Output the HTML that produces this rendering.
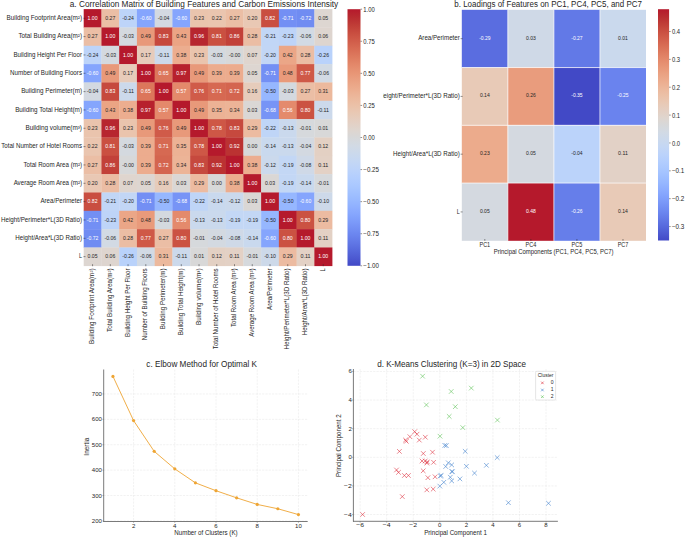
<!DOCTYPE html>
<html><head><meta charset="utf-8"><title>Figure</title>
<style>
html,body{margin:0;padding:0;background:#ffffff;}
body{width:685px;height:537px;overflow:hidden;}
svg{display:block;font-family:"Liberation Sans", sans-serif;}

</style></head><body>
<svg width="685" height="537" viewBox="0 0 685 537">
<rect x="0" y="0" width="685" height="537" fill="#ffffff"/>
<rect x="83.70" y="9.10" width="18.04" height="18.64" fill="#b5192c"/>
<rect x="101.44" y="9.10" width="18.04" height="18.64" fill="#ebbea5"/>
<rect x="119.19" y="9.10" width="18.04" height="18.64" fill="#bdd4f9"/>
<rect x="136.93" y="9.10" width="18.04" height="18.64" fill="#85a5fd"/>
<rect x="154.67" y="9.10" width="18.04" height="18.64" fill="#d3d9e1"/>
<rect x="172.41" y="9.10" width="18.04" height="18.64" fill="#85a5fd"/>
<rect x="190.16" y="9.10" width="18.04" height="18.64" fill="#eac4ad"/>
<rect x="207.90" y="9.10" width="18.04" height="18.64" fill="#eac5af"/>
<rect x="225.64" y="9.10" width="18.04" height="18.64" fill="#ebbea5"/>
<rect x="243.39" y="9.10" width="18.04" height="18.64" fill="#e9c8b4"/>
<rect x="261.13" y="9.10" width="18.04" height="18.64" fill="#c94e40"/>
<rect x="278.87" y="9.10" width="18.04" height="18.64" fill="#738ff4"/>
<rect x="296.61" y="9.10" width="18.04" height="18.64" fill="#708cf2"/>
<rect x="314.36" y="9.10" width="18.04" height="18.64" fill="#ddd6d1"/>
<rect x="83.70" y="27.44" width="18.04" height="18.64" fill="#ebbea5"/>
<rect x="101.44" y="27.44" width="18.04" height="18.64" fill="#b5192c"/>
<rect x="119.19" y="27.44" width="18.04" height="18.64" fill="#d4d9df"/>
<rect x="136.93" y="27.44" width="18.04" height="18.64" fill="#e8997a"/>
<rect x="154.67" y="27.44" width="18.04" height="18.64" fill="#c6493e"/>
<rect x="172.41" y="27.44" width="18.04" height="18.64" fill="#eba484"/>
<rect x="190.16" y="27.44" width="18.04" height="18.64" fill="#b7262f"/>
<rect x="207.90" y="27.44" width="18.04" height="18.64" fill="#ca5041"/>
<rect x="225.64" y="27.44" width="18.04" height="18.64" fill="#c24139"/>
<rect x="243.39" y="27.44" width="18.04" height="18.64" fill="#ebbda4"/>
<rect x="261.13" y="27.44" width="18.04" height="18.64" fill="#c1d6f6"/>
<rect x="278.87" y="27.44" width="18.04" height="18.64" fill="#bed4f8"/>
<rect x="296.61" y="27.44" width="18.04" height="18.64" fill="#d2dae4"/>
<rect x="314.36" y="27.44" width="18.04" height="18.64" fill="#ded5cf"/>
<rect x="83.70" y="45.77" width="18.04" height="18.64" fill="#bdd4f9"/>
<rect x="101.44" y="45.77" width="18.04" height="18.64" fill="#d4d9df"/>
<rect x="119.19" y="45.77" width="18.04" height="18.64" fill="#b5192c"/>
<rect x="136.93" y="45.77" width="18.04" height="18.64" fill="#e7cbba"/>
<rect x="154.67" y="45.77" width="18.04" height="18.64" fill="#ccd9eb"/>
<rect x="172.41" y="45.77" width="18.04" height="18.64" fill="#ecad8f"/>
<rect x="190.16" y="45.77" width="18.04" height="18.64" fill="#eac4ad"/>
<rect x="207.90" y="45.77" width="18.04" height="18.64" fill="#d4d9df"/>
<rect x="225.64" y="45.77" width="18.04" height="18.64" fill="#d7d8d9"/>
<rect x="243.39" y="45.77" width="18.04" height="18.64" fill="#dfd5ce"/>
<rect x="261.13" y="45.77" width="18.04" height="18.64" fill="#c2d6f5"/>
<rect x="278.87" y="45.77" width="18.04" height="18.64" fill="#eba687"/>
<rect x="296.61" y="45.77" width="18.04" height="18.64" fill="#ebbda4"/>
<rect x="314.36" y="45.77" width="18.04" height="18.64" fill="#b9d2fb"/>
<rect x="83.70" y="64.11" width="18.04" height="18.64" fill="#85a5fd"/>
<rect x="101.44" y="64.11" width="18.04" height="18.64" fill="#e8997a"/>
<rect x="119.19" y="64.11" width="18.04" height="18.64" fill="#e7cbba"/>
<rect x="136.93" y="64.11" width="18.04" height="18.64" fill="#b5192c"/>
<rect x="154.67" y="64.11" width="18.04" height="18.64" fill="#dc765b"/>
<rect x="172.41" y="64.11" width="18.04" height="18.64" fill="#b7212d"/>
<rect x="190.16" y="64.11" width="18.04" height="18.64" fill="#e8997a"/>
<rect x="207.90" y="64.11" width="18.04" height="18.64" fill="#ecac8e"/>
<rect x="225.64" y="64.11" width="18.04" height="18.64" fill="#ecac8e"/>
<rect x="243.39" y="64.11" width="18.04" height="18.64" fill="#ddd6d1"/>
<rect x="261.13" y="64.11" width="18.04" height="18.64" fill="#738ff4"/>
<rect x="278.87" y="64.11" width="18.04" height="18.64" fill="#e99a7b"/>
<rect x="296.61" y="64.11" width="18.04" height="18.64" fill="#cf5947"/>
<rect x="314.36" y="64.11" width="18.04" height="18.64" fill="#d2dae4"/>
<rect x="83.70" y="82.44" width="18.04" height="18.64" fill="#d3d9e1"/>
<rect x="101.44" y="82.44" width="18.04" height="18.64" fill="#c6493e"/>
<rect x="119.19" y="82.44" width="18.04" height="18.64" fill="#ccd9eb"/>
<rect x="136.93" y="82.44" width="18.04" height="18.64" fill="#dc765b"/>
<rect x="154.67" y="82.44" width="18.04" height="18.64" fill="#b5192c"/>
<rect x="172.41" y="82.44" width="18.04" height="18.64" fill="#e4896b"/>
<rect x="190.16" y="82.44" width="18.04" height="18.64" fill="#d05b49"/>
<rect x="207.90" y="82.44" width="18.04" height="18.64" fill="#d66952"/>
<rect x="225.64" y="82.44" width="18.04" height="18.64" fill="#d4654f"/>
<rect x="243.39" y="82.44" width="18.04" height="18.64" fill="#e6ccbb"/>
<rect x="261.13" y="82.44" width="18.04" height="18.64" fill="#96b7ff"/>
<rect x="278.87" y="82.44" width="18.04" height="18.64" fill="#d4d9df"/>
<rect x="296.61" y="82.44" width="18.04" height="18.64" fill="#ebbea5"/>
<rect x="314.36" y="82.44" width="18.04" height="18.64" fill="#ecb99d"/>
<rect x="83.70" y="100.78" width="18.04" height="18.64" fill="#85a5fd"/>
<rect x="101.44" y="100.78" width="18.04" height="18.64" fill="#eba484"/>
<rect x="119.19" y="100.78" width="18.04" height="18.64" fill="#ecad8f"/>
<rect x="136.93" y="100.78" width="18.04" height="18.64" fill="#b7212d"/>
<rect x="154.67" y="100.78" width="18.04" height="18.64" fill="#e4896b"/>
<rect x="172.41" y="100.78" width="18.04" height="18.64" fill="#b5192c"/>
<rect x="190.16" y="100.78" width="18.04" height="18.64" fill="#e8997a"/>
<rect x="207.90" y="100.78" width="18.04" height="18.64" fill="#ecb295"/>
<rect x="225.64" y="100.78" width="18.04" height="18.64" fill="#ecb497"/>
<rect x="243.39" y="100.78" width="18.04" height="18.64" fill="#dad7d5"/>
<rect x="261.13" y="100.78" width="18.04" height="18.64" fill="#7794f6"/>
<rect x="278.87" y="100.78" width="18.04" height="18.64" fill="#e48a6c"/>
<rect x="296.61" y="100.78" width="18.04" height="18.64" fill="#cb5242"/>
<rect x="314.36" y="100.78" width="18.04" height="18.64" fill="#ccd9eb"/>
<rect x="83.70" y="119.11" width="18.04" height="18.64" fill="#eac4ad"/>
<rect x="101.44" y="119.11" width="18.04" height="18.64" fill="#b7262f"/>
<rect x="119.19" y="119.11" width="18.04" height="18.64" fill="#eac4ad"/>
<rect x="136.93" y="119.11" width="18.04" height="18.64" fill="#e8997a"/>
<rect x="154.67" y="119.11" width="18.04" height="18.64" fill="#d05b49"/>
<rect x="172.41" y="119.11" width="18.04" height="18.64" fill="#e8997a"/>
<rect x="190.16" y="119.11" width="18.04" height="18.64" fill="#b5192c"/>
<rect x="207.90" y="119.11" width="18.04" height="18.64" fill="#ce5746"/>
<rect x="225.64" y="119.11" width="18.04" height="18.64" fill="#c6493e"/>
<rect x="243.39" y="119.11" width="18.04" height="18.64" fill="#ecbba1"/>
<rect x="261.13" y="119.11" width="18.04" height="18.64" fill="#bfd5f7"/>
<rect x="278.87" y="119.11" width="18.04" height="18.64" fill="#cad9ed"/>
<rect x="296.61" y="119.11" width="18.04" height="18.64" fill="#d6d9dc"/>
<rect x="314.36" y="119.11" width="18.04" height="18.64" fill="#d8d8d8"/>
<rect x="83.70" y="137.45" width="18.04" height="18.64" fill="#eac5af"/>
<rect x="101.44" y="137.45" width="18.04" height="18.64" fill="#ca5041"/>
<rect x="119.19" y="137.45" width="18.04" height="18.64" fill="#d4d9df"/>
<rect x="136.93" y="137.45" width="18.04" height="18.64" fill="#ecac8e"/>
<rect x="154.67" y="137.45" width="18.04" height="18.64" fill="#d66952"/>
<rect x="172.41" y="137.45" width="18.04" height="18.64" fill="#ecb295"/>
<rect x="190.16" y="137.45" width="18.04" height="18.64" fill="#ce5746"/>
<rect x="207.90" y="137.45" width="18.04" height="18.64" fill="#b5192c"/>
<rect x="225.64" y="137.45" width="18.04" height="18.64" fill="#bb3232"/>
<rect x="243.39" y="137.45" width="18.04" height="18.64" fill="#d7d8d9"/>
<rect x="261.13" y="137.45" width="18.04" height="18.64" fill="#c9d9ee"/>
<rect x="278.87" y="137.45" width="18.04" height="18.64" fill="#cad9ed"/>
<rect x="296.61" y="137.45" width="18.04" height="18.64" fill="#d3d9e1"/>
<rect x="314.36" y="137.45" width="18.04" height="18.64" fill="#e3d0c3"/>
<rect x="83.70" y="155.79" width="18.04" height="18.64" fill="#ebbea5"/>
<rect x="101.44" y="155.79" width="18.04" height="18.64" fill="#c24139"/>
<rect x="119.19" y="155.79" width="18.04" height="18.64" fill="#d7d8d9"/>
<rect x="136.93" y="155.79" width="18.04" height="18.64" fill="#ecac8e"/>
<rect x="154.67" y="155.79" width="18.04" height="18.64" fill="#d4654f"/>
<rect x="172.41" y="155.79" width="18.04" height="18.64" fill="#ecb497"/>
<rect x="190.16" y="155.79" width="18.04" height="18.64" fill="#c6493e"/>
<rect x="207.90" y="155.79" width="18.04" height="18.64" fill="#bb3232"/>
<rect x="225.64" y="155.79" width="18.04" height="18.64" fill="#b5192c"/>
<rect x="243.39" y="155.79" width="18.04" height="18.64" fill="#ecad8f"/>
<rect x="261.13" y="155.79" width="18.04" height="18.64" fill="#cbd9ec"/>
<rect x="278.87" y="155.79" width="18.04" height="18.64" fill="#c3d7f5"/>
<rect x="296.61" y="155.79" width="18.04" height="18.64" fill="#cfd9e7"/>
<rect x="314.36" y="155.79" width="18.04" height="18.64" fill="#e3d1c5"/>
<rect x="83.70" y="174.12" width="18.04" height="18.64" fill="#e9c8b4"/>
<rect x="101.44" y="174.12" width="18.04" height="18.64" fill="#ebbda4"/>
<rect x="119.19" y="174.12" width="18.04" height="18.64" fill="#dfd5ce"/>
<rect x="136.93" y="174.12" width="18.04" height="18.64" fill="#ddd6d1"/>
<rect x="154.67" y="174.12" width="18.04" height="18.64" fill="#e6ccbb"/>
<rect x="172.41" y="174.12" width="18.04" height="18.64" fill="#dad7d5"/>
<rect x="190.16" y="174.12" width="18.04" height="18.64" fill="#ecbba1"/>
<rect x="207.90" y="174.12" width="18.04" height="18.64" fill="#d7d8d9"/>
<rect x="225.64" y="174.12" width="18.04" height="18.64" fill="#ecad8f"/>
<rect x="243.39" y="174.12" width="18.04" height="18.64" fill="#b5192c"/>
<rect x="261.13" y="174.12" width="18.04" height="18.64" fill="#dad7d5"/>
<rect x="278.87" y="174.12" width="18.04" height="18.64" fill="#c3d7f5"/>
<rect x="296.61" y="174.12" width="18.04" height="18.64" fill="#c9d9ee"/>
<rect x="314.36" y="174.12" width="18.04" height="18.64" fill="#d6d9dc"/>
<rect x="83.70" y="192.46" width="18.04" height="18.64" fill="#c94e40"/>
<rect x="101.44" y="192.46" width="18.04" height="18.64" fill="#c1d6f6"/>
<rect x="119.19" y="192.46" width="18.04" height="18.64" fill="#c2d6f5"/>
<rect x="136.93" y="192.46" width="18.04" height="18.64" fill="#738ff4"/>
<rect x="154.67" y="192.46" width="18.04" height="18.64" fill="#96b7ff"/>
<rect x="172.41" y="192.46" width="18.04" height="18.64" fill="#7794f6"/>
<rect x="190.16" y="192.46" width="18.04" height="18.64" fill="#bfd5f7"/>
<rect x="207.90" y="192.46" width="18.04" height="18.64" fill="#c9d9ee"/>
<rect x="225.64" y="192.46" width="18.04" height="18.64" fill="#cbd9ec"/>
<rect x="243.39" y="192.46" width="18.04" height="18.64" fill="#dad7d5"/>
<rect x="261.13" y="192.46" width="18.04" height="18.64" fill="#b5192c"/>
<rect x="278.87" y="192.46" width="18.04" height="18.64" fill="#96b7ff"/>
<rect x="296.61" y="192.46" width="18.04" height="18.64" fill="#85a5fd"/>
<rect x="314.36" y="192.46" width="18.04" height="18.64" fill="#cdd9e9"/>
<rect x="83.70" y="210.79" width="18.04" height="18.64" fill="#738ff4"/>
<rect x="101.44" y="210.79" width="18.04" height="18.64" fill="#bed4f8"/>
<rect x="119.19" y="210.79" width="18.04" height="18.64" fill="#eba687"/>
<rect x="136.93" y="210.79" width="18.04" height="18.64" fill="#e99a7b"/>
<rect x="154.67" y="210.79" width="18.04" height="18.64" fill="#d4d9df"/>
<rect x="172.41" y="210.79" width="18.04" height="18.64" fill="#e48a6c"/>
<rect x="190.16" y="210.79" width="18.04" height="18.64" fill="#cad9ed"/>
<rect x="207.90" y="210.79" width="18.04" height="18.64" fill="#cad9ed"/>
<rect x="225.64" y="210.79" width="18.04" height="18.64" fill="#c3d7f5"/>
<rect x="243.39" y="210.79" width="18.04" height="18.64" fill="#c3d7f5"/>
<rect x="261.13" y="210.79" width="18.04" height="18.64" fill="#96b7ff"/>
<rect x="278.87" y="210.79" width="18.04" height="18.64" fill="#b5192c"/>
<rect x="296.61" y="210.79" width="18.04" height="18.64" fill="#cb5242"/>
<rect x="314.36" y="210.79" width="18.04" height="18.64" fill="#ecbba1"/>
<rect x="83.70" y="229.13" width="18.04" height="18.64" fill="#708cf2"/>
<rect x="101.44" y="229.13" width="18.04" height="18.64" fill="#d2dae4"/>
<rect x="119.19" y="229.13" width="18.04" height="18.64" fill="#ebbda4"/>
<rect x="136.93" y="229.13" width="18.04" height="18.64" fill="#cf5947"/>
<rect x="154.67" y="229.13" width="18.04" height="18.64" fill="#ebbea5"/>
<rect x="172.41" y="229.13" width="18.04" height="18.64" fill="#cb5242"/>
<rect x="190.16" y="229.13" width="18.04" height="18.64" fill="#d6d9dc"/>
<rect x="207.90" y="229.13" width="18.04" height="18.64" fill="#d3d9e1"/>
<rect x="225.64" y="229.13" width="18.04" height="18.64" fill="#cfd9e7"/>
<rect x="243.39" y="229.13" width="18.04" height="18.64" fill="#c9d9ee"/>
<rect x="261.13" y="229.13" width="18.04" height="18.64" fill="#85a5fd"/>
<rect x="278.87" y="229.13" width="18.04" height="18.64" fill="#cb5242"/>
<rect x="296.61" y="229.13" width="18.04" height="18.64" fill="#b5192c"/>
<rect x="314.36" y="229.13" width="18.04" height="18.64" fill="#e3d1c5"/>
<rect x="83.70" y="247.46" width="18.04" height="18.64" fill="#ddd6d1"/>
<rect x="101.44" y="247.46" width="18.04" height="18.64" fill="#ded5cf"/>
<rect x="119.19" y="247.46" width="18.04" height="18.64" fill="#b9d2fb"/>
<rect x="136.93" y="247.46" width="18.04" height="18.64" fill="#d2dae4"/>
<rect x="154.67" y="247.46" width="18.04" height="18.64" fill="#ecb99d"/>
<rect x="172.41" y="247.46" width="18.04" height="18.64" fill="#ccd9eb"/>
<rect x="190.16" y="247.46" width="18.04" height="18.64" fill="#d8d8d8"/>
<rect x="207.90" y="247.46" width="18.04" height="18.64" fill="#e3d0c3"/>
<rect x="225.64" y="247.46" width="18.04" height="18.64" fill="#e3d1c5"/>
<rect x="243.39" y="247.46" width="18.04" height="18.64" fill="#d6d9dc"/>
<rect x="261.13" y="247.46" width="18.04" height="18.64" fill="#cdd9e9"/>
<rect x="278.87" y="247.46" width="18.04" height="18.64" fill="#ecbba1"/>
<rect x="296.61" y="247.46" width="18.04" height="18.64" fill="#e3d1c5"/>
<rect x="314.36" y="247.46" width="18.04" height="18.64" fill="#b5192c"/>
<text x="92.57" y="19.89" font-size="5.22" text-anchor="middle" fill="#ffffff" textLength="10.02" lengthAdjust="spacingAndGlyphs">1.00</text>
<text x="110.31" y="19.89" font-size="5.22" text-anchor="middle" fill="#262626" textLength="10.02" lengthAdjust="spacingAndGlyphs">0.27</text>
<text x="128.06" y="19.89" font-size="5.22" text-anchor="middle" fill="#262626" textLength="11.64" lengthAdjust="spacingAndGlyphs">-0.24</text>
<text x="145.80" y="19.89" font-size="5.22" text-anchor="middle" fill="#ffffff" textLength="11.64" lengthAdjust="spacingAndGlyphs">-0.60</text>
<text x="163.54" y="19.89" font-size="5.22" text-anchor="middle" fill="#262626" textLength="11.64" lengthAdjust="spacingAndGlyphs">-0.04</text>
<text x="181.29" y="19.89" font-size="5.22" text-anchor="middle" fill="#ffffff" textLength="11.64" lengthAdjust="spacingAndGlyphs">-0.60</text>
<text x="199.03" y="19.89" font-size="5.22" text-anchor="middle" fill="#262626" textLength="10.02" lengthAdjust="spacingAndGlyphs">0.23</text>
<text x="216.77" y="19.89" font-size="5.22" text-anchor="middle" fill="#262626" textLength="10.02" lengthAdjust="spacingAndGlyphs">0.22</text>
<text x="234.51" y="19.89" font-size="5.22" text-anchor="middle" fill="#262626" textLength="10.02" lengthAdjust="spacingAndGlyphs">0.27</text>
<text x="252.26" y="19.89" font-size="5.22" text-anchor="middle" fill="#262626" textLength="10.02" lengthAdjust="spacingAndGlyphs">0.20</text>
<text x="270.00" y="19.89" font-size="5.22" text-anchor="middle" fill="#ffffff" textLength="10.02" lengthAdjust="spacingAndGlyphs">0.82</text>
<text x="287.74" y="19.89" font-size="5.22" text-anchor="middle" fill="#ffffff" textLength="11.64" lengthAdjust="spacingAndGlyphs">-0.71</text>
<text x="305.49" y="19.89" font-size="5.22" text-anchor="middle" fill="#ffffff" textLength="11.64" lengthAdjust="spacingAndGlyphs">-0.72</text>
<text x="323.23" y="19.89" font-size="5.22" text-anchor="middle" fill="#262626" textLength="10.02" lengthAdjust="spacingAndGlyphs">0.05</text>
<text x="92.57" y="38.22" font-size="5.22" text-anchor="middle" fill="#262626" textLength="10.02" lengthAdjust="spacingAndGlyphs">0.27</text>
<text x="110.31" y="38.22" font-size="5.22" text-anchor="middle" fill="#ffffff" textLength="10.02" lengthAdjust="spacingAndGlyphs">1.00</text>
<text x="128.06" y="38.22" font-size="5.22" text-anchor="middle" fill="#262626" textLength="11.64" lengthAdjust="spacingAndGlyphs">-0.03</text>
<text x="145.80" y="38.22" font-size="5.22" text-anchor="middle" fill="#262626" textLength="10.02" lengthAdjust="spacingAndGlyphs">0.49</text>
<text x="163.54" y="38.22" font-size="5.22" text-anchor="middle" fill="#ffffff" textLength="10.02" lengthAdjust="spacingAndGlyphs">0.83</text>
<text x="181.29" y="38.22" font-size="5.22" text-anchor="middle" fill="#262626" textLength="10.02" lengthAdjust="spacingAndGlyphs">0.43</text>
<text x="199.03" y="38.22" font-size="5.22" text-anchor="middle" fill="#ffffff" textLength="10.02" lengthAdjust="spacingAndGlyphs">0.96</text>
<text x="216.77" y="38.22" font-size="5.22" text-anchor="middle" fill="#ffffff" textLength="10.02" lengthAdjust="spacingAndGlyphs">0.81</text>
<text x="234.51" y="38.22" font-size="5.22" text-anchor="middle" fill="#ffffff" textLength="10.02" lengthAdjust="spacingAndGlyphs">0.86</text>
<text x="252.26" y="38.22" font-size="5.22" text-anchor="middle" fill="#262626" textLength="10.02" lengthAdjust="spacingAndGlyphs">0.28</text>
<text x="270.00" y="38.22" font-size="5.22" text-anchor="middle" fill="#262626" textLength="11.64" lengthAdjust="spacingAndGlyphs">-0.21</text>
<text x="287.74" y="38.22" font-size="5.22" text-anchor="middle" fill="#262626" textLength="11.64" lengthAdjust="spacingAndGlyphs">-0.23</text>
<text x="305.49" y="38.22" font-size="5.22" text-anchor="middle" fill="#262626" textLength="11.64" lengthAdjust="spacingAndGlyphs">-0.06</text>
<text x="323.23" y="38.22" font-size="5.22" text-anchor="middle" fill="#262626" textLength="10.02" lengthAdjust="spacingAndGlyphs">0.06</text>
<text x="92.57" y="56.56" font-size="5.22" text-anchor="middle" fill="#262626" textLength="11.64" lengthAdjust="spacingAndGlyphs">-0.24</text>
<text x="110.31" y="56.56" font-size="5.22" text-anchor="middle" fill="#262626" textLength="11.64" lengthAdjust="spacingAndGlyphs">-0.03</text>
<text x="128.06" y="56.56" font-size="5.22" text-anchor="middle" fill="#ffffff" textLength="10.02" lengthAdjust="spacingAndGlyphs">1.00</text>
<text x="145.80" y="56.56" font-size="5.22" text-anchor="middle" fill="#262626" textLength="10.02" lengthAdjust="spacingAndGlyphs">0.17</text>
<text x="163.54" y="56.56" font-size="5.22" text-anchor="middle" fill="#262626" textLength="11.64" lengthAdjust="spacingAndGlyphs">-0.11</text>
<text x="181.29" y="56.56" font-size="5.22" text-anchor="middle" fill="#262626" textLength="10.02" lengthAdjust="spacingAndGlyphs">0.38</text>
<text x="199.03" y="56.56" font-size="5.22" text-anchor="middle" fill="#262626" textLength="10.02" lengthAdjust="spacingAndGlyphs">0.23</text>
<text x="216.77" y="56.56" font-size="5.22" text-anchor="middle" fill="#262626" textLength="11.64" lengthAdjust="spacingAndGlyphs">-0.03</text>
<text x="234.51" y="56.56" font-size="5.22" text-anchor="middle" fill="#262626" textLength="11.64" lengthAdjust="spacingAndGlyphs">-0.00</text>
<text x="252.26" y="56.56" font-size="5.22" text-anchor="middle" fill="#262626" textLength="10.02" lengthAdjust="spacingAndGlyphs">0.07</text>
<text x="270.00" y="56.56" font-size="5.22" text-anchor="middle" fill="#262626" textLength="11.64" lengthAdjust="spacingAndGlyphs">-0.20</text>
<text x="287.74" y="56.56" font-size="5.22" text-anchor="middle" fill="#262626" textLength="10.02" lengthAdjust="spacingAndGlyphs">0.42</text>
<text x="305.49" y="56.56" font-size="5.22" text-anchor="middle" fill="#262626" textLength="10.02" lengthAdjust="spacingAndGlyphs">0.28</text>
<text x="323.23" y="56.56" font-size="5.22" text-anchor="middle" fill="#262626" textLength="11.64" lengthAdjust="spacingAndGlyphs">-0.26</text>
<text x="92.57" y="74.89" font-size="5.22" text-anchor="middle" fill="#ffffff" textLength="11.64" lengthAdjust="spacingAndGlyphs">-0.60</text>
<text x="110.31" y="74.89" font-size="5.22" text-anchor="middle" fill="#262626" textLength="10.02" lengthAdjust="spacingAndGlyphs">0.49</text>
<text x="128.06" y="74.89" font-size="5.22" text-anchor="middle" fill="#262626" textLength="10.02" lengthAdjust="spacingAndGlyphs">0.17</text>
<text x="145.80" y="74.89" font-size="5.22" text-anchor="middle" fill="#ffffff" textLength="10.02" lengthAdjust="spacingAndGlyphs">1.00</text>
<text x="163.54" y="74.89" font-size="5.22" text-anchor="middle" fill="#ffffff" textLength="10.02" lengthAdjust="spacingAndGlyphs">0.65</text>
<text x="181.29" y="74.89" font-size="5.22" text-anchor="middle" fill="#ffffff" textLength="10.02" lengthAdjust="spacingAndGlyphs">0.97</text>
<text x="199.03" y="74.89" font-size="5.22" text-anchor="middle" fill="#262626" textLength="10.02" lengthAdjust="spacingAndGlyphs">0.49</text>
<text x="216.77" y="74.89" font-size="5.22" text-anchor="middle" fill="#262626" textLength="10.02" lengthAdjust="spacingAndGlyphs">0.39</text>
<text x="234.51" y="74.89" font-size="5.22" text-anchor="middle" fill="#262626" textLength="10.02" lengthAdjust="spacingAndGlyphs">0.39</text>
<text x="252.26" y="74.89" font-size="5.22" text-anchor="middle" fill="#262626" textLength="10.02" lengthAdjust="spacingAndGlyphs">0.05</text>
<text x="270.00" y="74.89" font-size="5.22" text-anchor="middle" fill="#ffffff" textLength="11.64" lengthAdjust="spacingAndGlyphs">-0.71</text>
<text x="287.74" y="74.89" font-size="5.22" text-anchor="middle" fill="#262626" textLength="10.02" lengthAdjust="spacingAndGlyphs">0.48</text>
<text x="305.49" y="74.89" font-size="5.22" text-anchor="middle" fill="#ffffff" textLength="10.02" lengthAdjust="spacingAndGlyphs">0.77</text>
<text x="323.23" y="74.89" font-size="5.22" text-anchor="middle" fill="#262626" textLength="11.64" lengthAdjust="spacingAndGlyphs">-0.06</text>
<text x="92.57" y="93.23" font-size="5.22" text-anchor="middle" fill="#262626" textLength="11.64" lengthAdjust="spacingAndGlyphs">-0.04</text>
<text x="110.31" y="93.23" font-size="5.22" text-anchor="middle" fill="#ffffff" textLength="10.02" lengthAdjust="spacingAndGlyphs">0.83</text>
<text x="128.06" y="93.23" font-size="5.22" text-anchor="middle" fill="#262626" textLength="11.64" lengthAdjust="spacingAndGlyphs">-0.11</text>
<text x="145.80" y="93.23" font-size="5.22" text-anchor="middle" fill="#ffffff" textLength="10.02" lengthAdjust="spacingAndGlyphs">0.65</text>
<text x="163.54" y="93.23" font-size="5.22" text-anchor="middle" fill="#ffffff" textLength="10.02" lengthAdjust="spacingAndGlyphs">1.00</text>
<text x="181.29" y="93.23" font-size="5.22" text-anchor="middle" fill="#ffffff" textLength="10.02" lengthAdjust="spacingAndGlyphs">0.57</text>
<text x="199.03" y="93.23" font-size="5.22" text-anchor="middle" fill="#ffffff" textLength="10.02" lengthAdjust="spacingAndGlyphs">0.76</text>
<text x="216.77" y="93.23" font-size="5.22" text-anchor="middle" fill="#ffffff" textLength="10.02" lengthAdjust="spacingAndGlyphs">0.71</text>
<text x="234.51" y="93.23" font-size="5.22" text-anchor="middle" fill="#ffffff" textLength="10.02" lengthAdjust="spacingAndGlyphs">0.72</text>
<text x="252.26" y="93.23" font-size="5.22" text-anchor="middle" fill="#262626" textLength="10.02" lengthAdjust="spacingAndGlyphs">0.16</text>
<text x="270.00" y="93.23" font-size="5.22" text-anchor="middle" fill="#262626" textLength="11.64" lengthAdjust="spacingAndGlyphs">-0.50</text>
<text x="287.74" y="93.23" font-size="5.22" text-anchor="middle" fill="#262626" textLength="11.64" lengthAdjust="spacingAndGlyphs">-0.03</text>
<text x="305.49" y="93.23" font-size="5.22" text-anchor="middle" fill="#262626" textLength="10.02" lengthAdjust="spacingAndGlyphs">0.27</text>
<text x="323.23" y="93.23" font-size="5.22" text-anchor="middle" fill="#262626" textLength="10.02" lengthAdjust="spacingAndGlyphs">0.31</text>
<text x="92.57" y="111.57" font-size="5.22" text-anchor="middle" fill="#ffffff" textLength="11.64" lengthAdjust="spacingAndGlyphs">-0.60</text>
<text x="110.31" y="111.57" font-size="5.22" text-anchor="middle" fill="#262626" textLength="10.02" lengthAdjust="spacingAndGlyphs">0.43</text>
<text x="128.06" y="111.57" font-size="5.22" text-anchor="middle" fill="#262626" textLength="10.02" lengthAdjust="spacingAndGlyphs">0.38</text>
<text x="145.80" y="111.57" font-size="5.22" text-anchor="middle" fill="#ffffff" textLength="10.02" lengthAdjust="spacingAndGlyphs">0.97</text>
<text x="163.54" y="111.57" font-size="5.22" text-anchor="middle" fill="#ffffff" textLength="10.02" lengthAdjust="spacingAndGlyphs">0.57</text>
<text x="181.29" y="111.57" font-size="5.22" text-anchor="middle" fill="#ffffff" textLength="10.02" lengthAdjust="spacingAndGlyphs">1.00</text>
<text x="199.03" y="111.57" font-size="5.22" text-anchor="middle" fill="#262626" textLength="10.02" lengthAdjust="spacingAndGlyphs">0.49</text>
<text x="216.77" y="111.57" font-size="5.22" text-anchor="middle" fill="#262626" textLength="10.02" lengthAdjust="spacingAndGlyphs">0.35</text>
<text x="234.51" y="111.57" font-size="5.22" text-anchor="middle" fill="#262626" textLength="10.02" lengthAdjust="spacingAndGlyphs">0.34</text>
<text x="252.26" y="111.57" font-size="5.22" text-anchor="middle" fill="#262626" textLength="10.02" lengthAdjust="spacingAndGlyphs">0.03</text>
<text x="270.00" y="111.57" font-size="5.22" text-anchor="middle" fill="#ffffff" textLength="11.64" lengthAdjust="spacingAndGlyphs">-0.68</text>
<text x="287.74" y="111.57" font-size="5.22" text-anchor="middle" fill="#ffffff" textLength="10.02" lengthAdjust="spacingAndGlyphs">0.56</text>
<text x="305.49" y="111.57" font-size="5.22" text-anchor="middle" fill="#ffffff" textLength="10.02" lengthAdjust="spacingAndGlyphs">0.80</text>
<text x="323.23" y="111.57" font-size="5.22" text-anchor="middle" fill="#262626" textLength="11.64" lengthAdjust="spacingAndGlyphs">-0.11</text>
<text x="92.57" y="129.90" font-size="5.22" text-anchor="middle" fill="#262626" textLength="10.02" lengthAdjust="spacingAndGlyphs">0.23</text>
<text x="110.31" y="129.90" font-size="5.22" text-anchor="middle" fill="#ffffff" textLength="10.02" lengthAdjust="spacingAndGlyphs">0.96</text>
<text x="128.06" y="129.90" font-size="5.22" text-anchor="middle" fill="#262626" textLength="10.02" lengthAdjust="spacingAndGlyphs">0.23</text>
<text x="145.80" y="129.90" font-size="5.22" text-anchor="middle" fill="#262626" textLength="10.02" lengthAdjust="spacingAndGlyphs">0.49</text>
<text x="163.54" y="129.90" font-size="5.22" text-anchor="middle" fill="#ffffff" textLength="10.02" lengthAdjust="spacingAndGlyphs">0.76</text>
<text x="181.29" y="129.90" font-size="5.22" text-anchor="middle" fill="#262626" textLength="10.02" lengthAdjust="spacingAndGlyphs">0.49</text>
<text x="199.03" y="129.90" font-size="5.22" text-anchor="middle" fill="#ffffff" textLength="10.02" lengthAdjust="spacingAndGlyphs">1.00</text>
<text x="216.77" y="129.90" font-size="5.22" text-anchor="middle" fill="#ffffff" textLength="10.02" lengthAdjust="spacingAndGlyphs">0.78</text>
<text x="234.51" y="129.90" font-size="5.22" text-anchor="middle" fill="#ffffff" textLength="10.02" lengthAdjust="spacingAndGlyphs">0.83</text>
<text x="252.26" y="129.90" font-size="5.22" text-anchor="middle" fill="#262626" textLength="10.02" lengthAdjust="spacingAndGlyphs">0.29</text>
<text x="270.00" y="129.90" font-size="5.22" text-anchor="middle" fill="#262626" textLength="11.64" lengthAdjust="spacingAndGlyphs">-0.22</text>
<text x="287.74" y="129.90" font-size="5.22" text-anchor="middle" fill="#262626" textLength="11.64" lengthAdjust="spacingAndGlyphs">-0.13</text>
<text x="305.49" y="129.90" font-size="5.22" text-anchor="middle" fill="#262626" textLength="11.64" lengthAdjust="spacingAndGlyphs">-0.01</text>
<text x="323.23" y="129.90" font-size="5.22" text-anchor="middle" fill="#262626" textLength="10.02" lengthAdjust="spacingAndGlyphs">0.01</text>
<text x="92.57" y="148.24" font-size="5.22" text-anchor="middle" fill="#262626" textLength="10.02" lengthAdjust="spacingAndGlyphs">0.22</text>
<text x="110.31" y="148.24" font-size="5.22" text-anchor="middle" fill="#ffffff" textLength="10.02" lengthAdjust="spacingAndGlyphs">0.81</text>
<text x="128.06" y="148.24" font-size="5.22" text-anchor="middle" fill="#262626" textLength="11.64" lengthAdjust="spacingAndGlyphs">-0.03</text>
<text x="145.80" y="148.24" font-size="5.22" text-anchor="middle" fill="#262626" textLength="10.02" lengthAdjust="spacingAndGlyphs">0.39</text>
<text x="163.54" y="148.24" font-size="5.22" text-anchor="middle" fill="#ffffff" textLength="10.02" lengthAdjust="spacingAndGlyphs">0.71</text>
<text x="181.29" y="148.24" font-size="5.22" text-anchor="middle" fill="#262626" textLength="10.02" lengthAdjust="spacingAndGlyphs">0.35</text>
<text x="199.03" y="148.24" font-size="5.22" text-anchor="middle" fill="#ffffff" textLength="10.02" lengthAdjust="spacingAndGlyphs">0.78</text>
<text x="216.77" y="148.24" font-size="5.22" text-anchor="middle" fill="#ffffff" textLength="10.02" lengthAdjust="spacingAndGlyphs">1.00</text>
<text x="234.51" y="148.24" font-size="5.22" text-anchor="middle" fill="#ffffff" textLength="10.02" lengthAdjust="spacingAndGlyphs">0.92</text>
<text x="252.26" y="148.24" font-size="5.22" text-anchor="middle" fill="#262626" textLength="10.02" lengthAdjust="spacingAndGlyphs">0.00</text>
<text x="270.00" y="148.24" font-size="5.22" text-anchor="middle" fill="#262626" textLength="11.64" lengthAdjust="spacingAndGlyphs">-0.14</text>
<text x="287.74" y="148.24" font-size="5.22" text-anchor="middle" fill="#262626" textLength="11.64" lengthAdjust="spacingAndGlyphs">-0.13</text>
<text x="305.49" y="148.24" font-size="5.22" text-anchor="middle" fill="#262626" textLength="11.64" lengthAdjust="spacingAndGlyphs">-0.04</text>
<text x="323.23" y="148.24" font-size="5.22" text-anchor="middle" fill="#262626" textLength="10.02" lengthAdjust="spacingAndGlyphs">0.12</text>
<text x="92.57" y="166.57" font-size="5.22" text-anchor="middle" fill="#262626" textLength="10.02" lengthAdjust="spacingAndGlyphs">0.27</text>
<text x="110.31" y="166.57" font-size="5.22" text-anchor="middle" fill="#ffffff" textLength="10.02" lengthAdjust="spacingAndGlyphs">0.86</text>
<text x="128.06" y="166.57" font-size="5.22" text-anchor="middle" fill="#262626" textLength="11.64" lengthAdjust="spacingAndGlyphs">-0.00</text>
<text x="145.80" y="166.57" font-size="5.22" text-anchor="middle" fill="#262626" textLength="10.02" lengthAdjust="spacingAndGlyphs">0.39</text>
<text x="163.54" y="166.57" font-size="5.22" text-anchor="middle" fill="#ffffff" textLength="10.02" lengthAdjust="spacingAndGlyphs">0.72</text>
<text x="181.29" y="166.57" font-size="5.22" text-anchor="middle" fill="#262626" textLength="10.02" lengthAdjust="spacingAndGlyphs">0.34</text>
<text x="199.03" y="166.57" font-size="5.22" text-anchor="middle" fill="#ffffff" textLength="10.02" lengthAdjust="spacingAndGlyphs">0.83</text>
<text x="216.77" y="166.57" font-size="5.22" text-anchor="middle" fill="#ffffff" textLength="10.02" lengthAdjust="spacingAndGlyphs">0.92</text>
<text x="234.51" y="166.57" font-size="5.22" text-anchor="middle" fill="#ffffff" textLength="10.02" lengthAdjust="spacingAndGlyphs">1.00</text>
<text x="252.26" y="166.57" font-size="5.22" text-anchor="middle" fill="#262626" textLength="10.02" lengthAdjust="spacingAndGlyphs">0.38</text>
<text x="270.00" y="166.57" font-size="5.22" text-anchor="middle" fill="#262626" textLength="11.64" lengthAdjust="spacingAndGlyphs">-0.12</text>
<text x="287.74" y="166.57" font-size="5.22" text-anchor="middle" fill="#262626" textLength="11.64" lengthAdjust="spacingAndGlyphs">-0.19</text>
<text x="305.49" y="166.57" font-size="5.22" text-anchor="middle" fill="#262626" textLength="11.64" lengthAdjust="spacingAndGlyphs">-0.08</text>
<text x="323.23" y="166.57" font-size="5.22" text-anchor="middle" fill="#262626" textLength="10.02" lengthAdjust="spacingAndGlyphs">0.11</text>
<text x="92.57" y="184.91" font-size="5.22" text-anchor="middle" fill="#262626" textLength="10.02" lengthAdjust="spacingAndGlyphs">0.20</text>
<text x="110.31" y="184.91" font-size="5.22" text-anchor="middle" fill="#262626" textLength="10.02" lengthAdjust="spacingAndGlyphs">0.28</text>
<text x="128.06" y="184.91" font-size="5.22" text-anchor="middle" fill="#262626" textLength="10.02" lengthAdjust="spacingAndGlyphs">0.07</text>
<text x="145.80" y="184.91" font-size="5.22" text-anchor="middle" fill="#262626" textLength="10.02" lengthAdjust="spacingAndGlyphs">0.05</text>
<text x="163.54" y="184.91" font-size="5.22" text-anchor="middle" fill="#262626" textLength="10.02" lengthAdjust="spacingAndGlyphs">0.16</text>
<text x="181.29" y="184.91" font-size="5.22" text-anchor="middle" fill="#262626" textLength="10.02" lengthAdjust="spacingAndGlyphs">0.03</text>
<text x="199.03" y="184.91" font-size="5.22" text-anchor="middle" fill="#262626" textLength="10.02" lengthAdjust="spacingAndGlyphs">0.29</text>
<text x="216.77" y="184.91" font-size="5.22" text-anchor="middle" fill="#262626" textLength="10.02" lengthAdjust="spacingAndGlyphs">0.00</text>
<text x="234.51" y="184.91" font-size="5.22" text-anchor="middle" fill="#262626" textLength="10.02" lengthAdjust="spacingAndGlyphs">0.38</text>
<text x="252.26" y="184.91" font-size="5.22" text-anchor="middle" fill="#ffffff" textLength="10.02" lengthAdjust="spacingAndGlyphs">1.00</text>
<text x="270.00" y="184.91" font-size="5.22" text-anchor="middle" fill="#262626" textLength="10.02" lengthAdjust="spacingAndGlyphs">0.03</text>
<text x="287.74" y="184.91" font-size="5.22" text-anchor="middle" fill="#262626" textLength="11.64" lengthAdjust="spacingAndGlyphs">-0.19</text>
<text x="305.49" y="184.91" font-size="5.22" text-anchor="middle" fill="#262626" textLength="11.64" lengthAdjust="spacingAndGlyphs">-0.14</text>
<text x="323.23" y="184.91" font-size="5.22" text-anchor="middle" fill="#262626" textLength="11.64" lengthAdjust="spacingAndGlyphs">-0.01</text>
<text x="92.57" y="203.25" font-size="5.22" text-anchor="middle" fill="#ffffff" textLength="10.02" lengthAdjust="spacingAndGlyphs">0.82</text>
<text x="110.31" y="203.25" font-size="5.22" text-anchor="middle" fill="#262626" textLength="11.64" lengthAdjust="spacingAndGlyphs">-0.21</text>
<text x="128.06" y="203.25" font-size="5.22" text-anchor="middle" fill="#262626" textLength="11.64" lengthAdjust="spacingAndGlyphs">-0.20</text>
<text x="145.80" y="203.25" font-size="5.22" text-anchor="middle" fill="#ffffff" textLength="11.64" lengthAdjust="spacingAndGlyphs">-0.71</text>
<text x="163.54" y="203.25" font-size="5.22" text-anchor="middle" fill="#262626" textLength="11.64" lengthAdjust="spacingAndGlyphs">-0.50</text>
<text x="181.29" y="203.25" font-size="5.22" text-anchor="middle" fill="#ffffff" textLength="11.64" lengthAdjust="spacingAndGlyphs">-0.68</text>
<text x="199.03" y="203.25" font-size="5.22" text-anchor="middle" fill="#262626" textLength="11.64" lengthAdjust="spacingAndGlyphs">-0.22</text>
<text x="216.77" y="203.25" font-size="5.22" text-anchor="middle" fill="#262626" textLength="11.64" lengthAdjust="spacingAndGlyphs">-0.14</text>
<text x="234.51" y="203.25" font-size="5.22" text-anchor="middle" fill="#262626" textLength="11.64" lengthAdjust="spacingAndGlyphs">-0.12</text>
<text x="252.26" y="203.25" font-size="5.22" text-anchor="middle" fill="#262626" textLength="10.02" lengthAdjust="spacingAndGlyphs">0.03</text>
<text x="270.00" y="203.25" font-size="5.22" text-anchor="middle" fill="#ffffff" textLength="10.02" lengthAdjust="spacingAndGlyphs">1.00</text>
<text x="287.74" y="203.25" font-size="5.22" text-anchor="middle" fill="#262626" textLength="11.64" lengthAdjust="spacingAndGlyphs">-0.50</text>
<text x="305.49" y="203.25" font-size="5.22" text-anchor="middle" fill="#ffffff" textLength="11.64" lengthAdjust="spacingAndGlyphs">-0.60</text>
<text x="323.23" y="203.25" font-size="5.22" text-anchor="middle" fill="#262626" textLength="11.64" lengthAdjust="spacingAndGlyphs">-0.10</text>
<text x="92.57" y="221.58" font-size="5.22" text-anchor="middle" fill="#ffffff" textLength="11.64" lengthAdjust="spacingAndGlyphs">-0.71</text>
<text x="110.31" y="221.58" font-size="5.22" text-anchor="middle" fill="#262626" textLength="11.64" lengthAdjust="spacingAndGlyphs">-0.23</text>
<text x="128.06" y="221.58" font-size="5.22" text-anchor="middle" fill="#262626" textLength="10.02" lengthAdjust="spacingAndGlyphs">0.42</text>
<text x="145.80" y="221.58" font-size="5.22" text-anchor="middle" fill="#262626" textLength="10.02" lengthAdjust="spacingAndGlyphs">0.48</text>
<text x="163.54" y="221.58" font-size="5.22" text-anchor="middle" fill="#262626" textLength="11.64" lengthAdjust="spacingAndGlyphs">-0.03</text>
<text x="181.29" y="221.58" font-size="5.22" text-anchor="middle" fill="#ffffff" textLength="10.02" lengthAdjust="spacingAndGlyphs">0.56</text>
<text x="199.03" y="221.58" font-size="5.22" text-anchor="middle" fill="#262626" textLength="11.64" lengthAdjust="spacingAndGlyphs">-0.13</text>
<text x="216.77" y="221.58" font-size="5.22" text-anchor="middle" fill="#262626" textLength="11.64" lengthAdjust="spacingAndGlyphs">-0.13</text>
<text x="234.51" y="221.58" font-size="5.22" text-anchor="middle" fill="#262626" textLength="11.64" lengthAdjust="spacingAndGlyphs">-0.19</text>
<text x="252.26" y="221.58" font-size="5.22" text-anchor="middle" fill="#262626" textLength="11.64" lengthAdjust="spacingAndGlyphs">-0.19</text>
<text x="270.00" y="221.58" font-size="5.22" text-anchor="middle" fill="#262626" textLength="11.64" lengthAdjust="spacingAndGlyphs">-0.50</text>
<text x="287.74" y="221.58" font-size="5.22" text-anchor="middle" fill="#ffffff" textLength="10.02" lengthAdjust="spacingAndGlyphs">1.00</text>
<text x="305.49" y="221.58" font-size="5.22" text-anchor="middle" fill="#ffffff" textLength="10.02" lengthAdjust="spacingAndGlyphs">0.80</text>
<text x="323.23" y="221.58" font-size="5.22" text-anchor="middle" fill="#262626" textLength="10.02" lengthAdjust="spacingAndGlyphs">0.29</text>
<text x="92.57" y="239.92" font-size="5.22" text-anchor="middle" fill="#ffffff" textLength="11.64" lengthAdjust="spacingAndGlyphs">-0.72</text>
<text x="110.31" y="239.92" font-size="5.22" text-anchor="middle" fill="#262626" textLength="11.64" lengthAdjust="spacingAndGlyphs">-0.06</text>
<text x="128.06" y="239.92" font-size="5.22" text-anchor="middle" fill="#262626" textLength="10.02" lengthAdjust="spacingAndGlyphs">0.28</text>
<text x="145.80" y="239.92" font-size="5.22" text-anchor="middle" fill="#ffffff" textLength="10.02" lengthAdjust="spacingAndGlyphs">0.77</text>
<text x="163.54" y="239.92" font-size="5.22" text-anchor="middle" fill="#262626" textLength="10.02" lengthAdjust="spacingAndGlyphs">0.27</text>
<text x="181.29" y="239.92" font-size="5.22" text-anchor="middle" fill="#ffffff" textLength="10.02" lengthAdjust="spacingAndGlyphs">0.80</text>
<text x="199.03" y="239.92" font-size="5.22" text-anchor="middle" fill="#262626" textLength="11.64" lengthAdjust="spacingAndGlyphs">-0.01</text>
<text x="216.77" y="239.92" font-size="5.22" text-anchor="middle" fill="#262626" textLength="11.64" lengthAdjust="spacingAndGlyphs">-0.04</text>
<text x="234.51" y="239.92" font-size="5.22" text-anchor="middle" fill="#262626" textLength="11.64" lengthAdjust="spacingAndGlyphs">-0.08</text>
<text x="252.26" y="239.92" font-size="5.22" text-anchor="middle" fill="#262626" textLength="11.64" lengthAdjust="spacingAndGlyphs">-0.14</text>
<text x="270.00" y="239.92" font-size="5.22" text-anchor="middle" fill="#ffffff" textLength="11.64" lengthAdjust="spacingAndGlyphs">-0.60</text>
<text x="287.74" y="239.92" font-size="5.22" text-anchor="middle" fill="#ffffff" textLength="10.02" lengthAdjust="spacingAndGlyphs">0.80</text>
<text x="305.49" y="239.92" font-size="5.22" text-anchor="middle" fill="#ffffff" textLength="10.02" lengthAdjust="spacingAndGlyphs">1.00</text>
<text x="323.23" y="239.92" font-size="5.22" text-anchor="middle" fill="#262626" textLength="10.02" lengthAdjust="spacingAndGlyphs">0.11</text>
<text x="92.57" y="258.25" font-size="5.22" text-anchor="middle" fill="#262626" textLength="10.02" lengthAdjust="spacingAndGlyphs">0.05</text>
<text x="110.31" y="258.25" font-size="5.22" text-anchor="middle" fill="#262626" textLength="10.02" lengthAdjust="spacingAndGlyphs">0.06</text>
<text x="128.06" y="258.25" font-size="5.22" text-anchor="middle" fill="#262626" textLength="11.64" lengthAdjust="spacingAndGlyphs">-0.26</text>
<text x="145.80" y="258.25" font-size="5.22" text-anchor="middle" fill="#262626" textLength="11.64" lengthAdjust="spacingAndGlyphs">-0.06</text>
<text x="163.54" y="258.25" font-size="5.22" text-anchor="middle" fill="#262626" textLength="10.02" lengthAdjust="spacingAndGlyphs">0.31</text>
<text x="181.29" y="258.25" font-size="5.22" text-anchor="middle" fill="#262626" textLength="11.64" lengthAdjust="spacingAndGlyphs">-0.11</text>
<text x="199.03" y="258.25" font-size="5.22" text-anchor="middle" fill="#262626" textLength="10.02" lengthAdjust="spacingAndGlyphs">0.01</text>
<text x="216.77" y="258.25" font-size="5.22" text-anchor="middle" fill="#262626" textLength="10.02" lengthAdjust="spacingAndGlyphs">0.12</text>
<text x="234.51" y="258.25" font-size="5.22" text-anchor="middle" fill="#262626" textLength="10.02" lengthAdjust="spacingAndGlyphs">0.11</text>
<text x="252.26" y="258.25" font-size="5.22" text-anchor="middle" fill="#262626" textLength="11.64" lengthAdjust="spacingAndGlyphs">-0.01</text>
<text x="270.00" y="258.25" font-size="5.22" text-anchor="middle" fill="#262626" textLength="11.64" lengthAdjust="spacingAndGlyphs">-0.10</text>
<text x="287.74" y="258.25" font-size="5.22" text-anchor="middle" fill="#262626" textLength="10.02" lengthAdjust="spacingAndGlyphs">0.29</text>
<text x="305.49" y="258.25" font-size="5.22" text-anchor="middle" fill="#262626" textLength="10.02" lengthAdjust="spacingAndGlyphs">0.11</text>
<text x="323.23" y="258.25" font-size="5.22" text-anchor="middle" fill="#ffffff" textLength="10.02" lengthAdjust="spacingAndGlyphs">1.00</text>
<text x="82.00" y="19.93" font-size="6.41" text-anchor="end" fill="#262626" textLength="75.50" lengthAdjust="spacingAndGlyphs">Building Footprint Area(m²)</text>
<line x1="83.50" y1="18.27" x2="85.50" y2="18.27" stroke="#262626" stroke-width="0.5"/>
<text x="82.00" y="38.26" font-size="6.41" text-anchor="end" fill="#262626" textLength="63.51" lengthAdjust="spacingAndGlyphs">Total Building Area(m²)</text>
<line x1="83.50" y1="36.60" x2="85.50" y2="36.60" stroke="#262626" stroke-width="0.5"/>
<text x="82.00" y="56.60" font-size="6.41" text-anchor="end" fill="#262626" textLength="68.55" lengthAdjust="spacingAndGlyphs">Building Height Per Floor</text>
<line x1="83.50" y1="54.94" x2="85.50" y2="54.94" stroke="#262626" stroke-width="0.5"/>
<text x="82.00" y="74.93" font-size="6.41" text-anchor="end" fill="#262626" textLength="71.89" lengthAdjust="spacingAndGlyphs">Number of Building Floors</text>
<line x1="83.50" y1="73.27" x2="85.50" y2="73.27" stroke="#262626" stroke-width="0.5"/>
<text x="82.00" y="93.27" font-size="6.41" text-anchor="end" fill="#262626" textLength="60.87" lengthAdjust="spacingAndGlyphs">Building Perimeter(m)</text>
<line x1="83.50" y1="91.61" x2="85.50" y2="91.61" stroke="#262626" stroke-width="0.5"/>
<text x="82.00" y="111.61" font-size="6.41" text-anchor="end" fill="#262626" textLength="66.85" lengthAdjust="spacingAndGlyphs">Building Total Height(m)</text>
<line x1="83.50" y1="109.95" x2="85.50" y2="109.95" stroke="#262626" stroke-width="0.5"/>
<text x="82.00" y="129.94" font-size="6.41" text-anchor="end" fill="#262626" textLength="56.60" lengthAdjust="spacingAndGlyphs">Building volume(m³)</text>
<line x1="83.50" y1="128.28" x2="85.50" y2="128.28" stroke="#262626" stroke-width="0.5"/>
<text x="82.00" y="148.28" font-size="6.41" text-anchor="end" fill="#262626" textLength="80.77" lengthAdjust="spacingAndGlyphs">Total Number of Hotel Rooms</text>
<line x1="83.50" y1="146.62" x2="85.50" y2="146.62" stroke="#262626" stroke-width="0.5"/>
<text x="82.00" y="166.61" font-size="6.41" text-anchor="end" fill="#262626" textLength="58.58" lengthAdjust="spacingAndGlyphs">Total Room Area (m²)</text>
<line x1="83.50" y1="164.95" x2="85.50" y2="164.95" stroke="#262626" stroke-width="0.5"/>
<text x="82.00" y="184.95" font-size="6.41" text-anchor="end" fill="#262626" textLength="68.37" lengthAdjust="spacingAndGlyphs">Average Room Area (m²)</text>
<line x1="83.50" y1="183.29" x2="85.50" y2="183.29" stroke="#262626" stroke-width="0.5"/>
<text x="82.00" y="203.28" font-size="6.41" text-anchor="end" fill="#262626" textLength="41.57" lengthAdjust="spacingAndGlyphs">Area/Perimeter</text>
<line x1="83.50" y1="201.62" x2="85.50" y2="201.62" stroke="#262626" stroke-width="0.5"/>
<text x="82.00" y="221.62" font-size="6.41" text-anchor="end" fill="#262626" textLength="81.01" lengthAdjust="spacingAndGlyphs">Height/Perimeter*L(3D Ratio)</text>
<line x1="83.50" y1="219.96" x2="85.50" y2="219.96" stroke="#262626" stroke-width="0.5"/>
<text x="82.00" y="239.96" font-size="6.41" text-anchor="end" fill="#262626" textLength="66.76" lengthAdjust="spacingAndGlyphs">Height/Area*L(3D Ratio)</text>
<line x1="83.50" y1="238.30" x2="85.50" y2="238.30" stroke="#262626" stroke-width="0.5"/>
<text x="82.00" y="258.29" font-size="6.41" text-anchor="end" fill="#262626" textLength="3.08" lengthAdjust="spacingAndGlyphs">L</text>
<line x1="83.50" y1="256.63" x2="85.50" y2="256.63" stroke="#262626" stroke-width="0.5"/>
<text transform="translate(94.23,268.40) rotate(-90)" font-size="6.41" text-anchor="end" fill="#262626" textLength="75.50" lengthAdjust="spacingAndGlyphs">Building Footprint Area(m²)</text>
<line x1="92.57" y1="264.20" x2="92.57" y2="266.20" stroke="#262626" stroke-width="0.5"/>
<text transform="translate(111.97,268.40) rotate(-90)" font-size="6.41" text-anchor="end" fill="#262626" textLength="63.51" lengthAdjust="spacingAndGlyphs">Total Building Area(m²)</text>
<line x1="110.31" y1="264.20" x2="110.31" y2="266.20" stroke="#262626" stroke-width="0.5"/>
<text transform="translate(129.72,268.40) rotate(-90)" font-size="6.41" text-anchor="end" fill="#262626" textLength="68.55" lengthAdjust="spacingAndGlyphs">Building Height Per Floor</text>
<line x1="128.06" y1="264.20" x2="128.06" y2="266.20" stroke="#262626" stroke-width="0.5"/>
<text transform="translate(147.46,268.40) rotate(-90)" font-size="6.41" text-anchor="end" fill="#262626" textLength="71.89" lengthAdjust="spacingAndGlyphs">Number of Building Floors</text>
<line x1="145.80" y1="264.20" x2="145.80" y2="266.20" stroke="#262626" stroke-width="0.5"/>
<text transform="translate(165.20,268.40) rotate(-90)" font-size="6.41" text-anchor="end" fill="#262626" textLength="60.87" lengthAdjust="spacingAndGlyphs">Building Perimeter(m)</text>
<line x1="163.54" y1="264.20" x2="163.54" y2="266.20" stroke="#262626" stroke-width="0.5"/>
<text transform="translate(182.94,268.40) rotate(-90)" font-size="6.41" text-anchor="end" fill="#262626" textLength="66.85" lengthAdjust="spacingAndGlyphs">Building Total Height(m)</text>
<line x1="181.29" y1="264.20" x2="181.29" y2="266.20" stroke="#262626" stroke-width="0.5"/>
<text transform="translate(200.69,268.40) rotate(-90)" font-size="6.41" text-anchor="end" fill="#262626" textLength="56.60" lengthAdjust="spacingAndGlyphs">Building volume(m³)</text>
<line x1="199.03" y1="264.20" x2="199.03" y2="266.20" stroke="#262626" stroke-width="0.5"/>
<text transform="translate(218.43,268.40) rotate(-90)" font-size="6.41" text-anchor="end" fill="#262626" textLength="80.77" lengthAdjust="spacingAndGlyphs">Total Number of Hotel Rooms</text>
<line x1="216.77" y1="264.20" x2="216.77" y2="266.20" stroke="#262626" stroke-width="0.5"/>
<text transform="translate(236.17,268.40) rotate(-90)" font-size="6.41" text-anchor="end" fill="#262626" textLength="58.58" lengthAdjust="spacingAndGlyphs">Total Room Area (m²)</text>
<line x1="234.51" y1="264.20" x2="234.51" y2="266.20" stroke="#262626" stroke-width="0.5"/>
<text transform="translate(253.92,268.40) rotate(-90)" font-size="6.41" text-anchor="end" fill="#262626" textLength="68.37" lengthAdjust="spacingAndGlyphs">Average Room Area (m²)</text>
<line x1="252.26" y1="264.20" x2="252.26" y2="266.20" stroke="#262626" stroke-width="0.5"/>
<text transform="translate(271.66,268.40) rotate(-90)" font-size="6.41" text-anchor="end" fill="#262626" textLength="41.57" lengthAdjust="spacingAndGlyphs">Area/Perimeter</text>
<line x1="270.00" y1="264.20" x2="270.00" y2="266.20" stroke="#262626" stroke-width="0.5"/>
<text transform="translate(289.40,268.40) rotate(-90)" font-size="6.41" text-anchor="end" fill="#262626" textLength="81.01" lengthAdjust="spacingAndGlyphs">Height/Perimeter*L(3D Ratio)</text>
<line x1="287.74" y1="264.20" x2="287.74" y2="266.20" stroke="#262626" stroke-width="0.5"/>
<text transform="translate(307.14,268.40) rotate(-90)" font-size="6.41" text-anchor="end" fill="#262626" textLength="66.76" lengthAdjust="spacingAndGlyphs">Height/Area*L(3D Ratio)</text>
<line x1="305.49" y1="264.20" x2="305.49" y2="266.20" stroke="#262626" stroke-width="0.5"/>
<text transform="translate(324.89,268.40) rotate(-90)" font-size="6.41" text-anchor="end" fill="#262626" textLength="3.08" lengthAdjust="spacingAndGlyphs">L</text>
<line x1="323.23" y1="264.20" x2="323.23" y2="266.20" stroke="#262626" stroke-width="0.5"/>
<text x="204.00" y="7.30" font-size="8.51" text-anchor="middle" fill="#262626" textLength="268.49" lengthAdjust="spacingAndGlyphs">a. Correlation Matrix of Building Features and Carbon Emissions Intensity</text>
<defs><linearGradient id="cwa" x1="0" y1="1" x2="0" y2="0"><stop offset="0.0000" stop-color="#4249c6"/><stop offset="0.0312" stop-color="#4d5ad2"/><stop offset="0.0625" stop-color="#576add"/><stop offset="0.0938" stop-color="#6279e7"/><stop offset="0.1250" stop-color="#6c87f0"/><stop offset="0.1562" stop-color="#7794f6"/><stop offset="0.1875" stop-color="#81a1fc"/><stop offset="0.2188" stop-color="#8cacff"/><stop offset="0.2500" stop-color="#96b7ff"/><stop offset="0.2812" stop-color="#a0c0ff"/><stop offset="0.3125" stop-color="#aac8ff"/><stop offset="0.3438" stop-color="#b3cefe"/><stop offset="0.3750" stop-color="#bcd3fa"/><stop offset="0.4062" stop-color="#c4d7f4"/><stop offset="0.4375" stop-color="#cbd9ec"/><stop offset="0.4688" stop-color="#d2dae4"/><stop offset="0.5000" stop-color="#d7d8d9"/><stop offset="0.5312" stop-color="#dfd5ce"/><stop offset="0.5625" stop-color="#e4cfc2"/><stop offset="0.5938" stop-color="#e8c9b5"/><stop offset="0.6250" stop-color="#ebc1a8"/><stop offset="0.6562" stop-color="#ecb89c"/><stop offset="0.6875" stop-color="#ecad8f"/><stop offset="0.7188" stop-color="#eaa283"/><stop offset="0.7500" stop-color="#e89676"/><stop offset="0.7812" stop-color="#e4896b"/><stop offset="0.8125" stop-color="#de7b5f"/><stop offset="0.8438" stop-color="#d86c54"/><stop offset="0.8750" stop-color="#d15d4a"/><stop offset="0.9062" stop-color="#c94e40"/><stop offset="0.9375" stop-color="#c03d37"/><stop offset="0.9688" stop-color="#b82b30"/><stop offset="1.0000" stop-color="#b5192c"/></linearGradient>
<linearGradient id="cwb" x1="0" y1="1" x2="0" y2="0"><stop offset="0.0000" stop-color="#4249c6"/><stop offset="0.0312" stop-color="#4d5ad2"/><stop offset="0.0625" stop-color="#576add"/><stop offset="0.0938" stop-color="#6279e7"/><stop offset="0.1250" stop-color="#6c87f0"/><stop offset="0.1562" stop-color="#7794f6"/><stop offset="0.1875" stop-color="#81a1fc"/><stop offset="0.2188" stop-color="#8cacff"/><stop offset="0.2500" stop-color="#96b7ff"/><stop offset="0.2812" stop-color="#a0c0ff"/><stop offset="0.3125" stop-color="#aac8ff"/><stop offset="0.3438" stop-color="#b3cefe"/><stop offset="0.3750" stop-color="#bcd3fa"/><stop offset="0.4062" stop-color="#c4d7f4"/><stop offset="0.4375" stop-color="#cbd9ec"/><stop offset="0.4688" stop-color="#d2dae4"/><stop offset="0.5000" stop-color="#d7d8d9"/><stop offset="0.5312" stop-color="#dfd5ce"/><stop offset="0.5625" stop-color="#e4cfc2"/><stop offset="0.5938" stop-color="#e8c9b5"/><stop offset="0.6250" stop-color="#ebc1a8"/><stop offset="0.6562" stop-color="#ecb89c"/><stop offset="0.6875" stop-color="#ecad8f"/><stop offset="0.7188" stop-color="#eaa283"/><stop offset="0.7500" stop-color="#e89676"/><stop offset="0.7812" stop-color="#e4896b"/><stop offset="0.8125" stop-color="#de7b5f"/><stop offset="0.8438" stop-color="#d86c54"/><stop offset="0.8750" stop-color="#d15d4a"/><stop offset="0.9062" stop-color="#c94e40"/><stop offset="0.9375" stop-color="#c03d37"/><stop offset="0.9688" stop-color="#b82b30"/><stop offset="1.0000" stop-color="#b5192c"/></linearGradient>
<clipPath id="clipb"><rect x="383" y="0" width="302" height="300"/></clipPath></defs>
<rect x="347.50" y="9.20" width="13.00" height="256.60" fill="url(#cwa)"/>
<line x1="360.50" y1="9.20" x2="362.10" y2="9.20" stroke="#262626" stroke-width="0.5"/>
<text x="363.30" y="11.74" font-size="6.3" text-anchor="start" fill="#262626" textLength="11.40" lengthAdjust="spacingAndGlyphs">1.00</text>
<line x1="360.50" y1="41.28" x2="362.10" y2="41.28" stroke="#262626" stroke-width="0.5"/>
<text x="363.30" y="43.82" font-size="6.3" text-anchor="start" fill="#262626" textLength="11.40" lengthAdjust="spacingAndGlyphs">0.75</text>
<line x1="360.50" y1="73.35" x2="362.10" y2="73.35" stroke="#262626" stroke-width="0.5"/>
<text x="363.30" y="75.89" font-size="6.3" text-anchor="start" fill="#262626" textLength="11.40" lengthAdjust="spacingAndGlyphs">0.50</text>
<line x1="360.50" y1="105.43" x2="362.10" y2="105.43" stroke="#262626" stroke-width="0.5"/>
<text x="363.30" y="107.97" font-size="6.3" text-anchor="start" fill="#262626" textLength="11.40" lengthAdjust="spacingAndGlyphs">0.25</text>
<line x1="360.50" y1="137.50" x2="362.10" y2="137.50" stroke="#262626" stroke-width="0.5"/>
<text x="363.30" y="140.04" font-size="6.3" text-anchor="start" fill="#262626" textLength="11.40" lengthAdjust="spacingAndGlyphs">0.00</text>
<line x1="360.50" y1="169.57" x2="362.10" y2="169.57" stroke="#262626" stroke-width="0.5"/>
<text x="363.30" y="172.12" font-size="6.3" text-anchor="start" fill="#262626" textLength="15.69" lengthAdjust="spacingAndGlyphs">−0.25</text>
<line x1="360.50" y1="201.65" x2="362.10" y2="201.65" stroke="#262626" stroke-width="0.5"/>
<text x="363.30" y="204.19" font-size="6.3" text-anchor="start" fill="#262626" textLength="15.69" lengthAdjust="spacingAndGlyphs">−0.50</text>
<line x1="360.50" y1="233.73" x2="362.10" y2="233.73" stroke="#262626" stroke-width="0.5"/>
<text x="363.30" y="236.27" font-size="6.3" text-anchor="start" fill="#262626" textLength="15.69" lengthAdjust="spacingAndGlyphs">−0.75</text>
<line x1="360.50" y1="265.80" x2="362.10" y2="265.80" stroke="#262626" stroke-width="0.5"/>
<text x="363.30" y="268.34" font-size="6.3" text-anchor="start" fill="#262626" textLength="15.69" lengthAdjust="spacingAndGlyphs">−1.00</text>
<rect x="461.80" y="9.80" width="46.05" height="57.75" fill="#5a6de0"/>
<rect x="507.85" y="9.80" width="46.05" height="57.75" fill="#cfd9e7"/>
<rect x="553.90" y="9.80" width="46.05" height="57.75" fill="#6279e7"/>
<rect x="599.95" y="9.80" width="46.05" height="57.75" fill="#cad9ed"/>
<rect x="461.80" y="67.55" width="46.05" height="57.75" fill="#e8cab7"/>
<rect x="507.85" y="67.55" width="46.05" height="57.75" fill="#e99c7d"/>
<rect x="553.90" y="67.55" width="46.05" height="57.75" fill="#4249c6"/>
<rect x="599.95" y="67.55" width="46.05" height="57.75" fill="#6a83ee"/>
<rect x="461.80" y="125.30" width="46.05" height="57.75" fill="#ecab8c"/>
<rect x="507.85" y="125.30" width="46.05" height="57.75" fill="#d4d9e0"/>
<rect x="553.90" y="125.30" width="46.05" height="57.75" fill="#bbd3fa"/>
<rect x="599.95" y="125.30" width="46.05" height="57.75" fill="#e2d1c6"/>
<rect x="461.80" y="183.05" width="46.05" height="57.75" fill="#d4d9e0"/>
<rect x="507.85" y="183.05" width="46.05" height="57.75" fill="#b5192c"/>
<rect x="553.90" y="183.05" width="46.05" height="57.75" fill="#667eea"/>
<rect x="599.95" y="183.05" width="46.05" height="57.75" fill="#e8cab7"/>
<line x1="507.85" y1="9.80" x2="507.85" y2="240.80" stroke="#ffffff" stroke-width="0.7"/>
<line x1="553.90" y1="9.80" x2="553.90" y2="240.80" stroke="#ffffff" stroke-width="0.7"/>
<line x1="599.95" y1="9.80" x2="599.95" y2="240.80" stroke="#ffffff" stroke-width="0.7"/>
<line x1="461.80" y1="67.55" x2="646.00" y2="67.55" stroke="#ffffff" stroke-width="0.7"/>
<line x1="461.80" y1="125.30" x2="646.00" y2="125.30" stroke="#ffffff" stroke-width="0.7"/>
<line x1="461.80" y1="183.05" x2="646.00" y2="183.05" stroke="#ffffff" stroke-width="0.7"/>
<text x="484.82" y="39.66" font-size="5.1" text-anchor="middle" fill="#ffffff" textLength="11.38" lengthAdjust="spacingAndGlyphs">-0.29</text>
<text x="530.88" y="39.66" font-size="5.1" text-anchor="middle" fill="#262626" textLength="9.80" lengthAdjust="spacingAndGlyphs">0.03</text>
<text x="576.92" y="39.66" font-size="5.1" text-anchor="middle" fill="#ffffff" textLength="11.38" lengthAdjust="spacingAndGlyphs">-0.27</text>
<text x="622.98" y="39.66" font-size="5.1" text-anchor="middle" fill="#262626" textLength="9.80" lengthAdjust="spacingAndGlyphs">0.01</text>
<text x="484.82" y="97.41" font-size="5.1" text-anchor="middle" fill="#262626" textLength="9.80" lengthAdjust="spacingAndGlyphs">0.14</text>
<text x="530.88" y="97.41" font-size="5.1" text-anchor="middle" fill="#262626" textLength="9.80" lengthAdjust="spacingAndGlyphs">0.26</text>
<text x="576.92" y="97.41" font-size="5.1" text-anchor="middle" fill="#ffffff" textLength="11.38" lengthAdjust="spacingAndGlyphs">-0.35</text>
<text x="622.98" y="97.41" font-size="5.1" text-anchor="middle" fill="#ffffff" textLength="11.38" lengthAdjust="spacingAndGlyphs">-0.25</text>
<text x="484.82" y="155.16" font-size="5.1" text-anchor="middle" fill="#262626" textLength="9.80" lengthAdjust="spacingAndGlyphs">0.23</text>
<text x="530.88" y="155.16" font-size="5.1" text-anchor="middle" fill="#262626" textLength="9.80" lengthAdjust="spacingAndGlyphs">0.05</text>
<text x="576.92" y="155.16" font-size="5.1" text-anchor="middle" fill="#262626" textLength="11.38" lengthAdjust="spacingAndGlyphs">-0.04</text>
<text x="622.98" y="155.16" font-size="5.1" text-anchor="middle" fill="#262626" textLength="9.80" lengthAdjust="spacingAndGlyphs">0.11</text>
<text x="484.82" y="212.91" font-size="5.1" text-anchor="middle" fill="#262626" textLength="9.80" lengthAdjust="spacingAndGlyphs">0.05</text>
<text x="530.88" y="212.91" font-size="5.1" text-anchor="middle" fill="#ffffff" textLength="9.80" lengthAdjust="spacingAndGlyphs">0.48</text>
<text x="576.92" y="212.91" font-size="5.1" text-anchor="middle" fill="#ffffff" textLength="11.38" lengthAdjust="spacingAndGlyphs">-0.26</text>
<text x="622.98" y="212.91" font-size="5.1" text-anchor="middle" fill="#262626" textLength="9.80" lengthAdjust="spacingAndGlyphs">0.14</text>
<g clip-path="url(#clipb)">
<text x="459.80" y="40.33" font-size="6.41" text-anchor="end" fill="#262626" textLength="41.57" lengthAdjust="spacingAndGlyphs">Area/Perimeter</text>
<line x1="460.60" y1="38.67" x2="462.60" y2="38.67" stroke="#262626" stroke-width="0.5"/>
<text x="459.80" y="98.08" font-size="6.41" text-anchor="end" fill="#262626" textLength="81.01" lengthAdjust="spacingAndGlyphs">Height/Perimeter*L(3D Ratio)</text>
<line x1="460.60" y1="96.42" x2="462.60" y2="96.42" stroke="#262626" stroke-width="0.5"/>
<text x="459.80" y="155.83" font-size="6.41" text-anchor="end" fill="#262626" textLength="66.76" lengthAdjust="spacingAndGlyphs">Height/Area*L(3D Ratio)</text>
<line x1="460.60" y1="154.18" x2="462.60" y2="154.18" stroke="#262626" stroke-width="0.5"/>
<text x="459.80" y="213.58" font-size="6.41" text-anchor="end" fill="#262626" textLength="3.08" lengthAdjust="spacingAndGlyphs">L</text>
<line x1="460.60" y1="211.93" x2="462.60" y2="211.93" stroke="#262626" stroke-width="0.5"/>
</g>
<text x="484.82" y="247.16" font-size="6.41" text-anchor="middle" fill="#262626" textLength="10.71" lengthAdjust="spacingAndGlyphs">PC1</text>
<line x1="484.82" y1="239.00" x2="484.82" y2="240.80" stroke="#262626" stroke-width="0.5"/>
<text x="530.88" y="247.16" font-size="6.41" text-anchor="middle" fill="#262626" textLength="10.71" lengthAdjust="spacingAndGlyphs">PC4</text>
<line x1="530.88" y1="239.00" x2="530.88" y2="240.80" stroke="#262626" stroke-width="0.5"/>
<text x="576.92" y="247.16" font-size="6.41" text-anchor="middle" fill="#262626" textLength="10.71" lengthAdjust="spacingAndGlyphs">PC5</text>
<line x1="576.92" y1="239.00" x2="576.92" y2="240.80" stroke="#262626" stroke-width="0.5"/>
<text x="622.98" y="247.16" font-size="6.41" text-anchor="middle" fill="#262626" textLength="10.71" lengthAdjust="spacingAndGlyphs">PC7</text>
<line x1="622.98" y1="239.00" x2="622.98" y2="240.80" stroke="#262626" stroke-width="0.5"/>
<text x="553.70" y="254.36" font-size="6.41" text-anchor="middle" fill="#262626" textLength="119.78" lengthAdjust="spacingAndGlyphs">Principal Components (PC1, PC4, PC5, PC7)</text>
<text x="548.10" y="7.29" font-size="8.47" text-anchor="middle" fill="#262626" textLength="187.54" lengthAdjust="spacingAndGlyphs">b.  Loadings of Features on PC1, PC4, PC5, and PC7</text>
<rect x="658.00" y="9.20" width="11.10" height="231.30" fill="url(#cwb)"/>
<line x1="669.10" y1="226.57" x2="670.70" y2="226.57" stroke="#262626" stroke-width="0.5"/>
<text x="671.90" y="229.11" font-size="6.3" text-anchor="start" fill="#262626" textLength="12.43" lengthAdjust="spacingAndGlyphs">−0.3</text>
<line x1="669.10" y1="198.70" x2="670.70" y2="198.70" stroke="#262626" stroke-width="0.5"/>
<text x="671.90" y="201.24" font-size="6.3" text-anchor="start" fill="#262626" textLength="12.43" lengthAdjust="spacingAndGlyphs">−0.2</text>
<line x1="669.10" y1="170.83" x2="670.70" y2="170.83" stroke="#262626" stroke-width="0.5"/>
<text x="671.90" y="173.37" font-size="6.3" text-anchor="start" fill="#262626" textLength="12.43" lengthAdjust="spacingAndGlyphs">−0.1</text>
<line x1="669.10" y1="142.96" x2="670.70" y2="142.96" stroke="#262626" stroke-width="0.5"/>
<text x="671.90" y="145.51" font-size="6.3" text-anchor="start" fill="#262626" textLength="8.14" lengthAdjust="spacingAndGlyphs">0.0</text>
<line x1="669.10" y1="115.10" x2="670.70" y2="115.10" stroke="#262626" stroke-width="0.5"/>
<text x="671.90" y="117.64" font-size="6.3" text-anchor="start" fill="#262626" textLength="8.14" lengthAdjust="spacingAndGlyphs">0.1</text>
<line x1="669.10" y1="87.23" x2="670.70" y2="87.23" stroke="#262626" stroke-width="0.5"/>
<text x="671.90" y="89.77" font-size="6.3" text-anchor="start" fill="#262626" textLength="8.14" lengthAdjust="spacingAndGlyphs">0.2</text>
<line x1="669.10" y1="59.36" x2="670.70" y2="59.36" stroke="#262626" stroke-width="0.5"/>
<text x="671.90" y="61.90" font-size="6.3" text-anchor="start" fill="#262626" textLength="8.14" lengthAdjust="spacingAndGlyphs">0.3</text>
<line x1="669.10" y1="31.49" x2="670.70" y2="31.49" stroke="#262626" stroke-width="0.5"/>
<text x="671.90" y="34.04" font-size="6.3" text-anchor="start" fill="#262626" textLength="8.14" lengthAdjust="spacingAndGlyphs">0.4</text>
<line x1="133.58" y1="369.50" x2="133.58" y2="521.50" stroke="#e4e4e4" stroke-width="0.5" stroke-dasharray="2.2,1.1"/>
<line x1="174.79" y1="369.50" x2="174.79" y2="521.50" stroke="#e4e4e4" stroke-width="0.5" stroke-dasharray="2.2,1.1"/>
<line x1="216.00" y1="369.50" x2="216.00" y2="521.50" stroke="#e4e4e4" stroke-width="0.5" stroke-dasharray="2.2,1.1"/>
<line x1="257.22" y1="369.50" x2="257.22" y2="521.50" stroke="#e4e4e4" stroke-width="0.5" stroke-dasharray="2.2,1.1"/>
<line x1="298.43" y1="369.50" x2="298.43" y2="521.50" stroke="#e4e4e4" stroke-width="0.5" stroke-dasharray="2.2,1.1"/>
<line x1="103.70" y1="520.94" x2="307.70" y2="520.94" stroke="#e4e4e4" stroke-width="0.5" stroke-dasharray="2.2,1.1"/>
<line x1="103.70" y1="495.54" x2="307.70" y2="495.54" stroke="#e4e4e4" stroke-width="0.5" stroke-dasharray="2.2,1.1"/>
<line x1="103.70" y1="470.14" x2="307.70" y2="470.14" stroke="#e4e4e4" stroke-width="0.5" stroke-dasharray="2.2,1.1"/>
<line x1="103.70" y1="444.74" x2="307.70" y2="444.74" stroke="#e4e4e4" stroke-width="0.5" stroke-dasharray="2.2,1.1"/>
<line x1="103.70" y1="419.34" x2="307.70" y2="419.34" stroke="#e4e4e4" stroke-width="0.5" stroke-dasharray="2.2,1.1"/>
<line x1="103.70" y1="393.94" x2="307.70" y2="393.94" stroke="#e4e4e4" stroke-width="0.5" stroke-dasharray="2.2,1.1"/>
<polyline points="112.97,376.41 133.58,420.61 154.18,451.34 174.79,468.87 195.40,482.84 216.00,490.71 236.61,497.83 257.22,504.43 277.82,508.75 298.43,514.59" fill="none" stroke="#eea534" stroke-width="0.9"/>
<circle cx="112.97" cy="376.41" r="1.6" fill="#eea534"/>
<circle cx="133.58" cy="420.61" r="1.6" fill="#eea534"/>
<circle cx="154.18" cy="451.34" r="1.6" fill="#eea534"/>
<circle cx="174.79" cy="468.87" r="1.6" fill="#eea534"/>
<circle cx="195.40" cy="482.84" r="1.6" fill="#eea534"/>
<circle cx="216.00" cy="490.71" r="1.6" fill="#eea534"/>
<circle cx="236.61" cy="497.83" r="1.6" fill="#eea534"/>
<circle cx="257.22" cy="504.43" r="1.6" fill="#eea534"/>
<circle cx="277.82" cy="508.75" r="1.6" fill="#eea534"/>
<circle cx="298.43" cy="514.59" r="1.6" fill="#eea534"/>
<line x1="103.70" y1="369.50" x2="103.70" y2="521.90" stroke="#6b6b6b" stroke-width="0.9"/>
<line x1="103.30" y1="521.50" x2="307.70" y2="521.50" stroke="#6b6b6b" stroke-width="0.9"/>
<line x1="133.58" y1="521.50" x2="133.58" y2="522.70" stroke="#6b6b6b" stroke-width="0.6"/>
<text x="133.58" y="527.61" font-size="6.15" text-anchor="middle" fill="#262626" textLength="3.37" lengthAdjust="spacingAndGlyphs">2</text>
<line x1="174.79" y1="521.50" x2="174.79" y2="522.70" stroke="#6b6b6b" stroke-width="0.6"/>
<text x="174.79" y="527.61" font-size="6.15" text-anchor="middle" fill="#262626" textLength="3.37" lengthAdjust="spacingAndGlyphs">4</text>
<line x1="216.00" y1="521.50" x2="216.00" y2="522.70" stroke="#6b6b6b" stroke-width="0.6"/>
<text x="216.00" y="527.61" font-size="6.15" text-anchor="middle" fill="#262626" textLength="3.37" lengthAdjust="spacingAndGlyphs">6</text>
<line x1="257.22" y1="521.50" x2="257.22" y2="522.70" stroke="#6b6b6b" stroke-width="0.6"/>
<text x="257.22" y="527.61" font-size="6.15" text-anchor="middle" fill="#262626" textLength="3.37" lengthAdjust="spacingAndGlyphs">8</text>
<line x1="298.43" y1="521.50" x2="298.43" y2="522.70" stroke="#6b6b6b" stroke-width="0.6"/>
<text x="298.43" y="527.61" font-size="6.15" text-anchor="middle" fill="#262626" textLength="6.74" lengthAdjust="spacingAndGlyphs">10</text>
<line x1="102.50" y1="520.94" x2="103.70" y2="520.94" stroke="#6b6b6b" stroke-width="0.6"/>
<text x="101.90" y="522.95" font-size="6.15" text-anchor="end" fill="#262626" textLength="10.12" lengthAdjust="spacingAndGlyphs">200</text>
<line x1="102.50" y1="495.54" x2="103.70" y2="495.54" stroke="#6b6b6b" stroke-width="0.6"/>
<text x="101.90" y="497.55" font-size="6.15" text-anchor="end" fill="#262626" textLength="10.12" lengthAdjust="spacingAndGlyphs">300</text>
<line x1="102.50" y1="470.14" x2="103.70" y2="470.14" stroke="#6b6b6b" stroke-width="0.6"/>
<text x="101.90" y="472.15" font-size="6.15" text-anchor="end" fill="#262626" textLength="10.12" lengthAdjust="spacingAndGlyphs">400</text>
<line x1="102.50" y1="444.74" x2="103.70" y2="444.74" stroke="#6b6b6b" stroke-width="0.6"/>
<text x="101.90" y="446.75" font-size="6.15" text-anchor="end" fill="#262626" textLength="10.12" lengthAdjust="spacingAndGlyphs">500</text>
<line x1="102.50" y1="419.34" x2="103.70" y2="419.34" stroke="#6b6b6b" stroke-width="0.6"/>
<text x="101.90" y="421.34" font-size="6.15" text-anchor="end" fill="#262626" textLength="10.12" lengthAdjust="spacingAndGlyphs">600</text>
<line x1="102.50" y1="393.94" x2="103.70" y2="393.94" stroke="#6b6b6b" stroke-width="0.6"/>
<text x="101.90" y="395.94" font-size="6.15" text-anchor="end" fill="#262626" textLength="10.12" lengthAdjust="spacingAndGlyphs">700</text>
<text x="201.70" y="367.19" font-size="8.47" text-anchor="middle" fill="#262626" textLength="110.73" lengthAdjust="spacingAndGlyphs">c. Elbow Method for Optimal K</text>
<text x="206.00" y="535.16" font-size="6.41" text-anchor="middle" fill="#262626" textLength="63.27" lengthAdjust="spacingAndGlyphs">Number of Clusters (K)</text>
<text transform="translate(88.66,446.70) rotate(-90)" font-size="6.41" text-anchor="middle" fill="#262626" textLength="17.91" lengthAdjust="spacingAndGlyphs">Inertia</text>
<line x1="360.12" y1="369.00" x2="360.12" y2="521.30" stroke="#e4e4e4" stroke-width="0.5" stroke-dasharray="2.2,1.1"/>
<line x1="386.68" y1="369.00" x2="386.68" y2="521.30" stroke="#e4e4e4" stroke-width="0.5" stroke-dasharray="2.2,1.1"/>
<line x1="413.24" y1="369.00" x2="413.24" y2="521.30" stroke="#e4e4e4" stroke-width="0.5" stroke-dasharray="2.2,1.1"/>
<line x1="439.80" y1="369.00" x2="439.80" y2="521.30" stroke="#e4e4e4" stroke-width="0.5" stroke-dasharray="2.2,1.1"/>
<line x1="466.36" y1="369.00" x2="466.36" y2="521.30" stroke="#e4e4e4" stroke-width="0.5" stroke-dasharray="2.2,1.1"/>
<line x1="492.92" y1="369.00" x2="492.92" y2="521.30" stroke="#e4e4e4" stroke-width="0.5" stroke-dasharray="2.2,1.1"/>
<line x1="519.48" y1="369.00" x2="519.48" y2="521.30" stroke="#e4e4e4" stroke-width="0.5" stroke-dasharray="2.2,1.1"/>
<line x1="546.04" y1="369.00" x2="546.04" y2="521.30" stroke="#e4e4e4" stroke-width="0.5" stroke-dasharray="2.2,1.1"/>
<line x1="353.40" y1="514.54" x2="557.90" y2="514.54" stroke="#e4e4e4" stroke-width="0.5" stroke-dasharray="2.2,1.1"/>
<line x1="353.40" y1="485.92" x2="557.90" y2="485.92" stroke="#e4e4e4" stroke-width="0.5" stroke-dasharray="2.2,1.1"/>
<line x1="353.40" y1="457.30" x2="557.90" y2="457.30" stroke="#e4e4e4" stroke-width="0.5" stroke-dasharray="2.2,1.1"/>
<line x1="353.40" y1="428.68" x2="557.90" y2="428.68" stroke="#e4e4e4" stroke-width="0.5" stroke-dasharray="2.2,1.1"/>
<line x1="353.40" y1="400.06" x2="557.90" y2="400.06" stroke="#e4e4e4" stroke-width="0.5" stroke-dasharray="2.2,1.1"/>
<line x1="353.40" y1="371.44" x2="557.90" y2="371.44" stroke="#e4e4e4" stroke-width="0.5" stroke-dasharray="2.2,1.1"/>
<path d="M412.40,429.40L417.00,434.00M412.40,434.00L417.00,429.40" stroke="#de3341" stroke-width="0.85" stroke-opacity="0.7"/>
<path d="M414.70,431.90L419.30,436.50M414.70,436.50L419.30,431.90" stroke="#de3341" stroke-width="0.85" stroke-opacity="0.7"/>
<path d="M407.60,434.40L412.20,439.00M407.60,439.00L412.20,434.40" stroke="#de3341" stroke-width="0.85" stroke-opacity="0.7"/>
<path d="M403.20,437.80L407.80,442.40M403.20,442.40L407.80,437.80" stroke="#de3341" stroke-width="0.85" stroke-opacity="0.7"/>
<path d="M404.00,439.00L408.60,443.60M404.00,443.60L408.60,439.00" stroke="#de3341" stroke-width="0.85" stroke-opacity="0.7"/>
<path d="M417.00,437.80L421.60,442.40M417.00,442.40L421.60,437.80" stroke="#de3341" stroke-width="0.85" stroke-opacity="0.7"/>
<path d="M423.00,434.90L427.60,439.50M423.00,439.50L427.60,434.90" stroke="#de3341" stroke-width="0.85" stroke-opacity="0.7"/>
<path d="M397.10,449.10L401.70,453.70M397.10,453.70L401.70,449.10" stroke="#de3341" stroke-width="0.85" stroke-opacity="0.7"/>
<path d="M421.00,451.20L425.60,455.80M421.00,455.80L425.60,451.20" stroke="#de3341" stroke-width="0.85" stroke-opacity="0.7"/>
<path d="M430.20,449.90L434.80,454.50M430.20,454.50L434.80,449.90" stroke="#de3341" stroke-width="0.85" stroke-opacity="0.7"/>
<path d="M419.70,458.70L424.30,463.30M419.70,463.30L424.30,458.70" stroke="#de3341" stroke-width="0.85" stroke-opacity="0.7"/>
<path d="M422.90,458.70L427.50,463.30M422.90,463.30L427.50,458.70" stroke="#de3341" stroke-width="0.85" stroke-opacity="0.7"/>
<path d="M425.00,459.60L429.60,464.20M425.00,464.20L429.60,459.60" stroke="#de3341" stroke-width="0.85" stroke-opacity="0.7"/>
<path d="M424.60,460.80L429.20,465.40M424.60,465.40L429.20,460.80" stroke="#de3341" stroke-width="0.85" stroke-opacity="0.7"/>
<path d="M431.30,460.00L435.90,464.60M431.30,464.60L435.90,460.00" stroke="#de3341" stroke-width="0.85" stroke-opacity="0.7"/>
<path d="M394.20,467.70L398.80,472.30M394.20,472.30L398.80,467.70" stroke="#de3341" stroke-width="0.85" stroke-opacity="0.7"/>
<path d="M396.20,470.10L400.80,474.70M396.20,474.70L400.80,470.10" stroke="#de3341" stroke-width="0.85" stroke-opacity="0.7"/>
<path d="M402.10,473.20L406.70,477.80M402.10,477.80L406.70,473.20" stroke="#de3341" stroke-width="0.85" stroke-opacity="0.7"/>
<path d="M406.10,473.20L410.70,477.80M406.10,477.80L410.70,473.20" stroke="#de3341" stroke-width="0.85" stroke-opacity="0.7"/>
<path d="M420.90,468.50L425.50,473.10M420.90,473.10L425.50,468.50" stroke="#de3341" stroke-width="0.85" stroke-opacity="0.7"/>
<path d="M425.60,475.40L430.20,480.00M425.60,480.00L430.20,475.40" stroke="#de3341" stroke-width="0.85" stroke-opacity="0.7"/>
<path d="M432.80,474.50L437.40,479.10M432.80,479.10L437.40,474.50" stroke="#de3341" stroke-width="0.85" stroke-opacity="0.7"/>
<path d="M424.50,487.60L429.10,492.20M424.50,492.20L429.10,487.60" stroke="#de3341" stroke-width="0.85" stroke-opacity="0.7"/>
<path d="M430.90,486.80L435.50,491.40M430.90,491.40L435.50,486.80" stroke="#de3341" stroke-width="0.85" stroke-opacity="0.7"/>
<path d="M360.30,512.20L364.90,516.80M360.30,516.80L364.90,512.20" stroke="#de3341" stroke-width="0.85" stroke-opacity="0.7"/>
<path d="M400.00,494.30L404.60,498.90M400.00,498.90L404.60,494.30" stroke="#de3341" stroke-width="0.85" stroke-opacity="0.7"/>
<path d="M442.50,443.10L447.10,447.70M442.50,447.70L447.10,443.10" stroke="#4180cd" stroke-width="0.85" stroke-opacity="0.7"/>
<path d="M444.00,443.30L448.60,447.90M444.00,447.90L448.60,443.30" stroke="#4180cd" stroke-width="0.85" stroke-opacity="0.7"/>
<path d="M462.90,449.00L467.50,453.60M462.90,453.60L467.50,449.00" stroke="#4180cd" stroke-width="0.85" stroke-opacity="0.7"/>
<path d="M446.00,460.50L450.60,465.10M446.00,465.10L450.60,460.50" stroke="#4180cd" stroke-width="0.85" stroke-opacity="0.7"/>
<path d="M443.40,464.20L448.00,468.80M443.40,468.80L448.00,464.20" stroke="#4180cd" stroke-width="0.85" stroke-opacity="0.7"/>
<path d="M449.40,462.60L454.00,467.20M449.40,467.20L454.00,462.60" stroke="#4180cd" stroke-width="0.85" stroke-opacity="0.7"/>
<path d="M464.10,464.00L468.70,468.60M464.10,468.60L468.70,464.00" stroke="#4180cd" stroke-width="0.85" stroke-opacity="0.7"/>
<path d="M449.60,469.10L454.20,473.70M449.60,473.70L454.20,469.10" stroke="#4180cd" stroke-width="0.85" stroke-opacity="0.7"/>
<path d="M450.00,469.50L454.60,474.10M450.00,474.10L454.60,469.50" stroke="#4180cd" stroke-width="0.85" stroke-opacity="0.7"/>
<path d="M437.90,473.50L442.50,478.10M437.90,478.10L442.50,473.50" stroke="#4180cd" stroke-width="0.85" stroke-opacity="0.7"/>
<path d="M438.90,473.30L443.50,477.90M438.90,477.90L443.50,473.30" stroke="#4180cd" stroke-width="0.85" stroke-opacity="0.7"/>
<path d="M448.00,474.90L452.60,479.50M448.00,479.50L452.60,474.90" stroke="#4180cd" stroke-width="0.85" stroke-opacity="0.7"/>
<path d="M449.40,478.60L454.00,483.20M449.40,483.20L454.00,478.60" stroke="#4180cd" stroke-width="0.85" stroke-opacity="0.7"/>
<path d="M441.50,480.00L446.10,484.60M441.50,484.60L446.10,480.00" stroke="#4180cd" stroke-width="0.85" stroke-opacity="0.7"/>
<path d="M437.50,483.80L442.10,488.40M437.50,488.40L442.10,483.80" stroke="#4180cd" stroke-width="0.85" stroke-opacity="0.7"/>
<path d="M457.60,476.60L462.20,481.20M457.60,481.20L462.20,476.60" stroke="#4180cd" stroke-width="0.85" stroke-opacity="0.7"/>
<path d="M472.20,470.80L476.80,475.40M472.20,475.40L476.80,470.80" stroke="#4180cd" stroke-width="0.85" stroke-opacity="0.7"/>
<path d="M484.10,463.00L488.70,467.60M484.10,467.60L488.70,463.00" stroke="#4180cd" stroke-width="0.85" stroke-opacity="0.7"/>
<path d="M494.90,455.30L499.50,459.90M494.90,459.90L499.50,455.30" stroke="#4180cd" stroke-width="0.85" stroke-opacity="0.7"/>
<path d="M506.10,500.40L510.70,505.00M506.10,505.00L510.70,500.40" stroke="#4180cd" stroke-width="0.85" stroke-opacity="0.7"/>
<path d="M546.20,501.00L550.80,505.60M546.20,505.60L550.80,501.00" stroke="#4180cd" stroke-width="0.85" stroke-opacity="0.7"/>
<path d="M420.30,373.90L424.90,378.50M420.30,378.50L424.90,373.90" stroke="#5ec258" stroke-width="0.85" stroke-opacity="0.7"/>
<path d="M448.90,389.20L453.50,393.80M448.90,393.80L453.50,389.20" stroke="#5ec258" stroke-width="0.85" stroke-opacity="0.7"/>
<path d="M469.00,385.80L473.60,390.40M469.00,390.40L473.60,385.80" stroke="#5ec258" stroke-width="0.85" stroke-opacity="0.7"/>
<path d="M424.10,402.60L428.70,407.20M424.10,407.20L428.70,402.60" stroke="#5ec258" stroke-width="0.85" stroke-opacity="0.7"/>
<path d="M453.00,404.40L457.60,409.00M453.00,409.00L457.60,404.40" stroke="#5ec258" stroke-width="0.85" stroke-opacity="0.7"/>
<path d="M446.90,414.10L451.50,418.70M446.90,418.70L451.50,414.10" stroke="#5ec258" stroke-width="0.85" stroke-opacity="0.7"/>
<path d="M460.50,425.30L465.10,429.90M460.50,429.90L465.10,425.30" stroke="#5ec258" stroke-width="0.85" stroke-opacity="0.7"/>
<path d="M495.10,417.80L499.70,422.40M495.10,422.40L499.70,417.80" stroke="#5ec258" stroke-width="0.85" stroke-opacity="0.7"/>
<path d="M437.70,433.90L442.30,438.50M437.70,438.50L442.30,433.90" stroke="#5ec258" stroke-width="0.85" stroke-opacity="0.7"/>
<line x1="353.40" y1="369.00" x2="353.40" y2="521.70" stroke="#6b6b6b" stroke-width="0.9"/>
<line x1="353.00" y1="521.30" x2="557.90" y2="521.30" stroke="#6b6b6b" stroke-width="0.9"/>
<line x1="360.12" y1="521.30" x2="360.12" y2="522.50" stroke="#6b6b6b" stroke-width="0.6"/>
<text x="360.12" y="527.41" font-size="6.15" text-anchor="middle" fill="#262626" textLength="7.81" lengthAdjust="spacingAndGlyphs">−6</text>
<line x1="386.68" y1="521.30" x2="386.68" y2="522.50" stroke="#6b6b6b" stroke-width="0.6"/>
<text x="386.68" y="527.41" font-size="6.15" text-anchor="middle" fill="#262626" textLength="7.81" lengthAdjust="spacingAndGlyphs">−4</text>
<line x1="413.24" y1="521.30" x2="413.24" y2="522.50" stroke="#6b6b6b" stroke-width="0.6"/>
<text x="413.24" y="527.41" font-size="6.15" text-anchor="middle" fill="#262626" textLength="7.81" lengthAdjust="spacingAndGlyphs">−2</text>
<line x1="439.80" y1="521.30" x2="439.80" y2="522.50" stroke="#6b6b6b" stroke-width="0.6"/>
<text x="439.80" y="527.41" font-size="6.15" text-anchor="middle" fill="#262626" textLength="3.37" lengthAdjust="spacingAndGlyphs">0</text>
<line x1="466.36" y1="521.30" x2="466.36" y2="522.50" stroke="#6b6b6b" stroke-width="0.6"/>
<text x="466.36" y="527.41" font-size="6.15" text-anchor="middle" fill="#262626" textLength="3.37" lengthAdjust="spacingAndGlyphs">2</text>
<line x1="492.92" y1="521.30" x2="492.92" y2="522.50" stroke="#6b6b6b" stroke-width="0.6"/>
<text x="492.92" y="527.41" font-size="6.15" text-anchor="middle" fill="#262626" textLength="3.37" lengthAdjust="spacingAndGlyphs">4</text>
<line x1="519.48" y1="521.30" x2="519.48" y2="522.50" stroke="#6b6b6b" stroke-width="0.6"/>
<text x="519.48" y="527.41" font-size="6.15" text-anchor="middle" fill="#262626" textLength="3.37" lengthAdjust="spacingAndGlyphs">6</text>
<line x1="546.04" y1="521.30" x2="546.04" y2="522.50" stroke="#6b6b6b" stroke-width="0.6"/>
<text x="546.04" y="527.41" font-size="6.15" text-anchor="middle" fill="#262626" textLength="3.37" lengthAdjust="spacingAndGlyphs">8</text>
<line x1="352.20" y1="514.54" x2="353.40" y2="514.54" stroke="#6b6b6b" stroke-width="0.6"/>
<text x="351.90" y="516.55" font-size="6.15" text-anchor="end" fill="#262626" textLength="7.81" lengthAdjust="spacingAndGlyphs">−4</text>
<line x1="352.20" y1="485.92" x2="353.40" y2="485.92" stroke="#6b6b6b" stroke-width="0.6"/>
<text x="351.90" y="487.93" font-size="6.15" text-anchor="end" fill="#262626" textLength="7.81" lengthAdjust="spacingAndGlyphs">−2</text>
<line x1="352.20" y1="457.30" x2="353.40" y2="457.30" stroke="#6b6b6b" stroke-width="0.6"/>
<text x="351.90" y="459.31" font-size="6.15" text-anchor="end" fill="#262626" textLength="3.37" lengthAdjust="spacingAndGlyphs">0</text>
<line x1="352.20" y1="428.68" x2="353.40" y2="428.68" stroke="#6b6b6b" stroke-width="0.6"/>
<text x="351.90" y="430.69" font-size="6.15" text-anchor="end" fill="#262626" textLength="3.37" lengthAdjust="spacingAndGlyphs">2</text>
<line x1="352.20" y1="400.06" x2="353.40" y2="400.06" stroke="#6b6b6b" stroke-width="0.6"/>
<text x="351.90" y="402.07" font-size="6.15" text-anchor="end" fill="#262626" textLength="3.37" lengthAdjust="spacingAndGlyphs">4</text>
<line x1="352.20" y1="371.44" x2="353.40" y2="371.44" stroke="#6b6b6b" stroke-width="0.6"/>
<text x="351.90" y="373.45" font-size="6.15" text-anchor="end" fill="#262626" textLength="3.37" lengthAdjust="spacingAndGlyphs">6</text>
<text x="451.60" y="367.29" font-size="8.47" text-anchor="middle" fill="#262626" textLength="148.83" lengthAdjust="spacingAndGlyphs">d. K-Means Clustering (K=3) in 2D Space</text>
<text x="455.50" y="534.86" font-size="6.41" text-anchor="middle" fill="#262626" textLength="62.70" lengthAdjust="spacingAndGlyphs">Principal Component 1</text>
<text transform="translate(340.86,445.70) rotate(-90)" font-size="6.41" text-anchor="middle" fill="#262626" textLength="62.70" lengthAdjust="spacingAndGlyphs">Principal Component 2</text>
<rect x="535.6" y="371.3" width="20" height="28.7" rx="1.2" fill="#ffffff" fill-opacity="0.8" stroke="#cccccc" stroke-width="0.5"/>
<text x="545.60" y="377.12" font-size="5.1" text-anchor="middle" fill="#262626" textLength="15.62" lengthAdjust="spacingAndGlyphs">Cluster</text>
<path d="M541.10,381.60L543.70,384.20M541.10,384.20L543.70,381.60" stroke="#de3341" stroke-width="0.9" stroke-opacity="0.7"/>
<text x="552.20" y="384.22" font-size="5.1" text-anchor="middle" fill="#262626" textLength="2.80" lengthAdjust="spacingAndGlyphs">0</text>
<path d="M541.10,388.70L543.70,391.30M541.10,391.30L543.70,388.70" stroke="#4180cd" stroke-width="0.9" stroke-opacity="0.7"/>
<text x="552.20" y="391.32" font-size="5.1" text-anchor="middle" fill="#262626" textLength="2.80" lengthAdjust="spacingAndGlyphs">1</text>
<path d="M541.10,395.40L543.70,398.00M541.10,398.00L543.70,395.40" stroke="#5ec258" stroke-width="0.9" stroke-opacity="0.7"/>
<text x="552.20" y="398.02" font-size="5.1" text-anchor="middle" fill="#262626" textLength="2.80" lengthAdjust="spacingAndGlyphs">2</text>
</svg>
</body></html>
